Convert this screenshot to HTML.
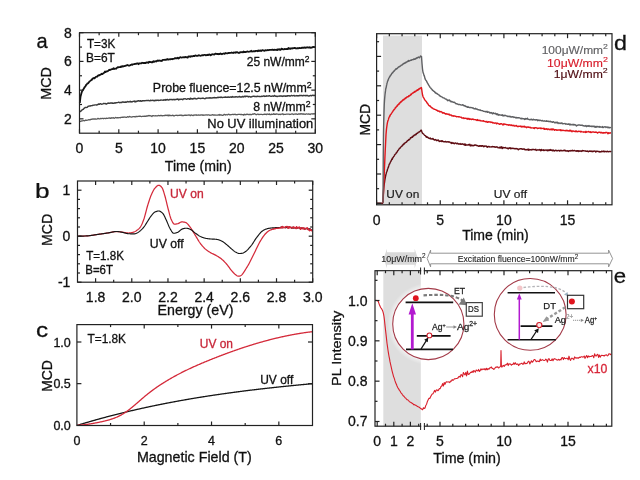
<!DOCTYPE html>
<html><head><meta charset="utf-8"><title>figure</title>
<style>html,body{margin:0;padding:0;background:#fff;}svg{display:block;}</style>
</head><body>
<svg width="640" height="480" viewBox="0 0 640 480" font-family="'Liberation Sans', Arial, sans-serif">
<rect width="640" height="480" fill="#fff"/>
<polyline points="79.8,121.5 80.5,121.42 81.2,121.13 81.9,120.83 82.6,120.8 83.3,120.52 84,120.65 84.7,120.84 85.4,120.26 86.1,120.11 86.8,120.27 87.5,120.13 88.2,119.96 88.9,119.61 89.6,119.74 90.3,119.84 91,119.25 91.7,119.4 92.4,118.96 93.1,119.05 93.8,118.84 94.5,119.18 95.2,118.86 95.9,119.19 96.6,119.1 97.3,118.96 98,118.32 98.7,118.77 99.4,118.83 100.1,118.82 100.8,118.36 101.5,118.57 102.2,118.39 102.9,118.38 103.6,118.8 104.3,118.28 105,118.43 105.7,118.61 106.4,118.2 107.1,118.27 107.8,118.28 108.5,118.22 109.2,117.85 109.9,118.13 110.6,118.41 111.3,117.64 112,118.2 112.7,117.97 113.4,117.74 114.1,118.35 114.8,118 115.5,117.47 116.2,117.75 116.9,117.83 117.6,117.6 118.3,117.77 119,117.54 119.7,117.68 120.4,117.84 121.1,117.27 121.8,117.44 122.5,117.23 123.2,117.34 123.9,116.97 124.6,117.08 125.3,117.14 126,117.37 126.7,117.39 127.4,116.73 128.1,116.82 128.8,117.14 129.5,116.44 130.2,116.78 130.9,116.84 131.6,117.14 132.3,116.96 133,116.66 133.7,116.62 134.4,116.61 135.1,117.02 135.8,116.49 136.5,116.49 137.2,116.62 137.9,116.47 138.6,116.41 139.3,116.15 140,116.4 140.7,116.26 141.4,116.63 142.1,116.47 142.8,116.27 143.5,116.41 144.2,116.13 144.9,116.45 145.6,116.15 146.3,116.27 147,115.78 147.7,116.16 148.4,115.62 149.1,115.51 149.8,115.91 150.5,115.74 151.2,115.98 151.9,116.48 152.6,115.69 153.3,115.72 154,115.9 154.7,115.96 155.4,115.77 156.1,115.75 156.8,115.96 157.5,115.9 158.2,115.49 158.9,115.72 159.6,115.73 160.3,115.44 161,115.76 161.7,115.46 162.4,115.91 163.1,115.7 163.8,115.66 164.5,115.48 165.2,115.59 165.9,115.1 166.6,115.31 167.3,115.67 168,115.04 168.7,115.77 169.4,115.11 170.1,115.72 170.8,115.31 171.5,115.71 172.2,115.54 172.9,115.11 173.6,115.8 174.3,115.83 175,115.45 175.7,115.39 176.4,115.4 177.1,115.19 177.8,115.7 178.5,115.28 179.2,115.39 179.9,115.2 180.6,115.23 181.3,115.06 182,115.69 182.7,115.32 183.4,115.59 184.1,115.35 184.8,115.16 185.5,115.25 186.2,115.18 186.9,115.31 187.6,115.21 188.3,115.22 189,114.94 189.7,115.07 190.4,115.68 191.1,115.09 191.8,114.98 192.5,115.32 193.2,115.58 193.9,114.85 194.6,115.15 195.3,115.04 196,114.75 196.7,115.36 197.4,115.16 198.1,115.17 198.8,114.96 199.5,115.25 200.2,114.99 200.9,115.08 201.6,114.83 202.3,114.79 203,115.42 203.7,114.95 204.4,115.14 205.1,115.05 205.8,114.94 206.5,114.91 207.2,115.18 207.9,114.94 208.6,114.97 209.3,115 210,115.28 210.7,115.15 211.4,115.06 212.1,114.82 212.8,114.6 213.5,115.18 214.2,115.17 214.9,114.88 215.6,115.04 216.3,115.1 217,115.1 217.7,115.11 218.4,114.76 219.1,115.24 219.8,114.54 220.5,115.06 221.2,114.96 221.9,115.04 222.6,115.29 223.3,115.18 224,114.51 224.7,114.37 225.4,114.98 226.1,114.52 226.8,114.76 227.5,114.96 228.2,114.33 228.9,114.21 229.6,114.79 230.3,114.73 231,114.65 231.7,114.71 232.4,114.47 233.1,114.3 233.8,114.63 234.5,114.42 235.2,114.25 235.9,114.77 236.6,114.62 237.3,114.73 238,114.38 238.7,114.45 239.4,114.36 240.1,114.38 240.8,114.64 241.5,114.39 242.2,114.66 242.9,114.65 243.6,115.07 244.3,114.2 245,114.77 245.7,114.51 246.4,114.52 247.1,114.16 247.8,114.4 248.5,114.69 249.2,114.48 249.9,114.51 250.6,114.41 251.3,114.76 252,114.46 252.7,113.91 253.4,114.28 254.1,113.95 254.8,113.62 255.5,114.29 256.2,114.75 256.9,114.42 257.6,114.11 258.3,114.16 259,114.67 259.7,114.42 260.4,114.39 261.1,114.35 261.8,114.37 262.5,114.55 263.2,114.48 263.9,114.39 264.6,114.07 265.3,114.45 266,114.15 266.7,114.59 267.4,113.99 268.1,114.26 268.8,114.29 269.5,113.96 270.2,114.71 270.9,114.64 271.6,114.15 272.3,114.45 273,114.35 273.7,113.6 274.4,114.31 275.1,114.22 275.8,114.25 276.5,113.96 277.2,114.15 277.9,114.17 278.6,114.51 279.3,114.29 280,114.2 280.7,114.58 281.4,114.05 282.1,114.09 282.8,113.73 283.5,114.57 284.2,114.41 284.9,114.39 285.6,114.33 286.3,114.18 287,114.2 287.7,114.08 288.4,114.09 289.1,114.15 289.8,114.51 290.5,114.27 291.2,114.11 291.9,113.97 292.6,113.96 293.3,114.51 294,114.23 294.7,114.12 295.4,114.01 296.1,113.82 296.8,114.07 297.5,114.3 298.2,113.98 298.9,114.02 299.6,114.02 300.3,114.1 301,113.67 301.7,114 302.4,113.84 303.1,114.27 303.8,113.86 304.5,114.19 305.2,114.42 305.9,113.96 306.6,113.89 307.3,114.08 308,114.03 308.7,113.78 309.4,114.14 310.1,114.52 310.8,113.95 311.5,113.96 312.2,113.75 312.9,114.09 313.6,113.69 314.3,113.73 315,114.32" fill="none" stroke="#5a5a5a" stroke-width="1.3" stroke-linejoin="round" />
<polyline points="79.8,111.57 80.5,111.43 81.2,110.92 81.9,110.02 82.6,109.55 83.3,109.4 84,108.41 84.7,107.91 85.4,107.36 86.1,107.39 86.8,107.44 87.5,107.03 88.2,106.3 88.9,106.1 89.6,105.98 90.3,106 91,105.7 91.7,105.65 92.4,105.51 93.1,105.22 93.8,105.14 94.5,105.07 95.2,104.88 95.9,104.9 96.6,105.13 97.3,104.71 98,104.47 98.7,103.94 99.4,104.37 100.1,103.7 100.8,103.75 101.5,104.24 102.2,104.13 102.9,103.84 103.6,103.38 104.3,103.64 105,103.5 105.7,103.77 106.4,104.11 107.1,103.54 107.8,103.23 108.5,103.07 109.2,103.3 109.9,103.21 110.6,102.91 111.3,103.18 112,102.81 112.7,103.32 113.4,103.26 114.1,103.21 114.8,102.77 115.5,102.97 116.2,102.76 116.9,102.64 117.6,102.6 118.3,102.31 119,102.22 119.7,102.72 120.4,102.42 121.1,102.47 121.8,102.6 122.5,101.86 123.2,102.04 123.9,102.22 124.6,102.22 125.3,101.97 126,102.26 126.7,102 127.4,101.58 128.1,101.6 128.8,101.97 129.5,101.83 130.2,101.18 130.9,101.94 131.6,101.7 132.3,101.83 133,101.35 133.7,101.32 134.4,101.06 135.1,101.93 135.8,101.2 136.5,101.6 137.2,100.99 137.9,101.15 138.6,100.66 139.3,100.94 140,101.25 140.7,100.65 141.4,101.2 142.1,100.99 142.8,100.61 143.5,100.72 144.2,100.7 144.9,100.78 145.6,100.63 146.3,100.53 147,100.64 147.7,100.43 148.4,100.35 149.1,100.63 149.8,100.84 150.5,100.21 151.2,100.57 151.9,100.39 152.6,100.28 153.3,100.71 154,100.35 154.7,100.82 155.4,100.23 156.1,100.49 156.8,100.31 157.5,100.15 158.2,100.46 158.9,100.24 159.6,100.4 160.3,100.21 161,99.92 161.7,100.14 162.4,100.15 163.1,100.35 163.8,99.85 164.5,100.04 165.2,99.59 165.9,100.15 166.6,99.69 167.3,99.48 168,99.88 168.7,100.14 169.4,99.45 170.1,99.53 170.8,99.59 171.5,99.46 172.2,99.81 172.9,99.48 173.6,99.47 174.3,99.76 175,99.4 175.7,99.66 176.4,99.28 177.1,99.19 177.8,99 178.5,99.9 179.2,99.32 179.9,99.43 180.6,99.33 181.3,99.34 182,99.29 182.7,99.72 183.4,98.95 184.1,98.79 184.8,98.9 185.5,98.78 186.2,99.27 186.9,99.26 187.6,98.78 188.3,98.64 189,98.87 189.7,99.28 190.4,98.19 191.1,99 191.8,98.57 192.5,99.07 193.2,98.51 193.9,98.68 194.6,98.34 195.3,98.44 196,99 196.7,98.83 197.4,98.49 198.1,98.35 198.8,98.06 199.5,98.4 200.2,98.46 200.9,98.42 201.6,98.38 202.3,98.09 203,98.32 203.7,98.3 204.4,98.6 205.1,98.71 205.8,98.18 206.5,97.99 207.2,98.13 207.9,97.96 208.6,97.89 209.3,98.03 210,97.75 210.7,98.13 211.4,97.92 212.1,97.97 212.8,97.83 213.5,97.66 214.2,97.58 214.9,97.72 215.6,97.61 216.3,97.77 217,97.68 217.7,97.31 218.4,97.64 219.1,97.25 219.8,97.4 220.5,97.45 221.2,96.97 221.9,97.49 222.6,97.47 223.3,97.36 224,97.27 224.7,97.25 225.4,97.07 226.1,97.22 226.8,97.12 227.5,97.25 228.2,96.9 228.9,97.23 229.6,97.18 230.3,97.08 231,96.98 231.7,97.2 232.4,96.62 233.1,97.13 233.8,97.05 234.5,97.04 235.2,97.04 235.9,96.76 236.6,96.83 237.3,97.04 238,96.96 238.7,96.89 239.4,96.44 240.1,96.93 240.8,97.07 241.5,97.01 242.2,96.8 242.9,96.33 243.6,96.94 244.3,96.65 245,96.04 245.7,96.75 246.4,96.27 247.1,96.3 247.8,96.45 248.5,96.91 249.2,96.48 249.9,96.63 250.6,96.98 251.3,96.93 252,96.49 252.7,96.44 253.4,96.17 254.1,96.3 254.8,96.56 255.5,96.54 256.2,96.46 256.9,96.67 257.6,96.21 258.3,96.38 259,96.56 259.7,96.51 260.4,96.62 261.1,96.44 261.8,96.25 262.5,96.4 263.2,96.05 263.9,95.88 264.6,96.42 265.3,96.25 266,96.33 266.7,95.81 267.4,96.13 268.1,96.06 268.8,95.98 269.5,95.62 270.2,96.09 270.9,96.39 271.6,96.25 272.3,95.99 273,96.12 273.7,96.3 274.4,95.41 275.1,96.06 275.8,96.21 276.5,96.23 277.2,96.48 277.9,96.32 278.6,96.1 279.3,96.09 280,96.2 280.7,95.85 281.4,95.96 282.1,96.19 282.8,96.44 283.5,95.9 284.2,95.91 284.9,95.96 285.6,96.23 286.3,95.88 287,96.24 287.7,95.62 288.4,95.8 289.1,95.79 289.8,96.02 290.5,96.07 291.2,95.42 291.9,95.56 292.6,95.86 293.3,95.6 294,95.37 294.7,96 295.4,95.85 296.1,95.84 296.8,95.58 297.5,95.95 298.2,95.62 298.9,95.94 299.6,95.42 300.3,95.43 301,95.68 301.7,95.44 302.4,95.77 303.1,95.66 303.8,95.35 304.5,95.59 305.2,95.47 305.9,95.78 306.6,95.38 307.3,95.41 308,95.82 308.7,96.06 309.4,95.99 310.1,95.49 310.8,95.52 311.5,95.84 312.2,95.41 312.9,95.19 313.6,95.45 314.3,95.52 315,95.19" fill="none" stroke="#3a3a3a" stroke-width="1.45" stroke-linejoin="round" />
<polyline points="79.8,103.01 80.5,96.85 81.2,93.92 81.9,91.65 82.6,90.52 83.3,89.41 84,88.36 84.7,87.01 85.4,86.29 86.1,84.98 86.8,84.31 87.5,83.34 88.2,83.27 88.9,82.25 89.6,81.39 90.3,80.88 91,80.3 91.7,79.99 92.4,78.73 93.1,78.35 93.8,78.03 94.5,78.42 95.2,77.51 95.9,76.77 96.6,76.63 97.3,76.67 98,75.62 98.7,75.24 99.4,75.36 100.1,74.8 100.8,74.5 101.5,73.78 102.2,74.15 102.9,73.73 103.6,73.03 104.3,72.71 105,71.55 105.7,72.01 106.4,71.43 107.1,71.3 107.8,71.07 108.5,70.47 109.2,69.79 109.9,70.15 110.6,69.57 111.3,69.46 112,69.16 112.7,69.02 113.4,68.22 114.1,69.08 114.8,68.6 115.5,68.67 116.2,68.74 116.9,67.98 117.6,67.25 118.3,67.35 119,67.08 119.7,67.12 120.4,67.13 121.1,66.33 121.8,66.86 122.5,66.14 123.2,66.51 123.9,66.22 124.6,66 125.3,65.91 126,65.61 126.7,65.42 127.4,64.95 128.1,65.29 128.8,65.7 129.5,65.6 130.2,65.26 130.9,64.93 131.6,64.38 132.3,64.89 133,64.31 133.7,64.19 134.4,64.01 135.1,64.01 135.8,63.75 136.5,63.76 137.2,63.36 137.9,63.48 138.6,64.19 139.3,63.4 140,63.27 140.7,63.42 141.4,63.39 142.1,62.77 142.8,62.96 143.5,63.22 144.2,62.95 144.9,62.83 145.6,63.19 146.3,62.44 147,62.59 147.7,62.33 148.4,62.85 149.1,61.73 149.8,62.02 150.5,61.98 151.2,62.24 151.9,62.13 152.6,62.27 153.3,61.28 154,61.88 154.7,61.46 155.4,61.25 156.1,61.51 156.8,60.96 157.5,60.51 158.2,60.92 158.9,60.47 159.6,60.62 160.3,60.82 161,60.69 161.7,60.97 162.4,60.32 163.1,59.81 163.8,59.93 164.5,59.78 165.2,59.58 165.9,59.96 166.6,59.53 167.3,59.02 168,59.72 168.7,59.36 169.4,59.4 170.1,59.22 170.8,59.27 171.5,58.98 172.2,59.24 172.9,58.89 173.6,58.78 174.3,58.69 175,58.03 175.7,58.32 176.4,58.19 177.1,58.24 177.8,57.67 178.5,58.48 179.2,57.93 179.9,57.45 180.6,57.21 181.3,57.56 182,57.53 182.7,57.26 183.4,57.41 184.1,57.11 184.8,57.39 185.5,56.92 186.2,57.05 186.9,57.27 187.6,57.67 188.3,56.51 189,56.6 189.7,56.41 190.4,56.82 191.1,56.16 191.8,56.28 192.5,56.34 193.2,55.98 193.9,55.91 194.6,55.98 195.3,55.42 196,55.54 196.7,55.78 197.4,55.87 198.1,55.7 198.8,55.15 199.5,55.47 200.2,55.78 200.9,55.64 201.6,55.38 202.3,55.07 203,55.45 203.7,55.02 204.4,54.78 205.1,54.82 205.8,55.43 206.5,54.99 207.2,55.21 207.9,54.65 208.6,55.01 209.3,54.48 210,54.55 210.7,55.28 211.4,54.7 212.1,54.26 212.8,54.32 213.5,54.39 214.2,54.59 214.9,54.02 215.6,53.58 216.3,53.96 217,53.99 217.7,53.96 218.4,54.27 219.1,53.91 219.8,54 220.5,53.37 221.2,53.9 221.9,54.22 222.6,53.76 223.3,53.55 224,53.47 224.7,53.9 225.4,53.03 226.1,53.22 226.8,53.34 227.5,53.37 228.2,52.96 228.9,53.13 229.6,52.91 230.3,52.97 231,52.84 231.7,52.49 232.4,52.77 233.1,52.99 233.8,52.38 234.5,52.54 235.2,52.76 235.9,52.19 236.6,52.51 237.3,52.09 238,52.69 238.7,52.99 239.4,52.85 240.1,52.13 240.8,52.36 241.5,52.12 242.2,52.06 242.9,52.44 243.6,51.53 244.3,52.19 245,51.81 245.7,52.19 246.4,51.77 247.1,51.46 247.8,51.69 248.5,51.78 249.2,51.52 249.9,51.6 250.6,51.25 251.3,50.71 252,51.57 252.7,51.46 253.4,51.24 254.1,51.16 254.8,51.4 255.5,50.9 256.2,50.78 256.9,50.88 257.6,51.24 258.3,50.42 259,51.14 259.7,50.54 260.4,50.35 261.1,51.01 261.8,50.55 262.5,50.14 263.2,50.37 263.9,50.71 264.6,50.74 265.3,50.2 266,50.4 266.7,50.45 267.4,49.99 268.1,50.24 268.8,50.07 269.5,49.87 270.2,49.84 270.9,49.95 271.6,49.89 272.3,49.67 273,49.66 273.7,50.07 274.4,49.75 275.1,49.91 275.8,49.95 276.5,49.72 277.2,50.17 277.9,49.2 278.6,49.64 279.3,49.25 280,49.86 280.7,49.76 281.4,48.62 282.1,48.87 282.8,49.31 283.5,49.3 284.2,49.23 284.9,48.94 285.6,49.05 286.3,49.07 287,48.8 287.7,49.08 288.4,48.05 289.1,48.87 289.8,48.32 290.5,48.87 291.2,48.47 291.9,48.23 292.6,48.56 293.3,48.13 294,48.08 294.7,47.84 295.4,48.25 296.1,48.36 296.8,48.48 297.5,48.08 298.2,48.39 298.9,48.04 299.6,47.96 300.3,48.11 301,48.21 301.7,47.75 302.4,47.73 303.1,47.71 303.8,47.74 304.5,47.4 305.2,47.93 305.9,47.46 306.6,47.67 307.3,47.24 308,47.55 308.7,47.52 309.4,47.23 310.1,47.91 310.8,47.38 311.5,47.75 312.2,47.46 312.9,46.93 313.6,46.97 314.3,47.17 315,47.02" fill="none" stroke="#111" stroke-width="1.8" stroke-linejoin="round" />
<rect x="79.5" y="32.7" width="235.8" height="100.5" fill="none" stroke="#222" stroke-width="1.2"/>
<line x1="79.5" y1="133.2" x2="79.5" y2="129.2" stroke="#222" stroke-width="1.2" />
<line x1="79.5" y1="32.7" x2="79.5" y2="36.7" stroke="#222" stroke-width="1.2" />
<line x1="118.8" y1="133.2" x2="118.8" y2="129.2" stroke="#222" stroke-width="1.2" />
<line x1="118.8" y1="32.7" x2="118.8" y2="36.7" stroke="#222" stroke-width="1.2" />
<line x1="158.1" y1="133.2" x2="158.1" y2="129.2" stroke="#222" stroke-width="1.2" />
<line x1="158.1" y1="32.7" x2="158.1" y2="36.7" stroke="#222" stroke-width="1.2" />
<line x1="197.4" y1="133.2" x2="197.4" y2="129.2" stroke="#222" stroke-width="1.2" />
<line x1="197.4" y1="32.7" x2="197.4" y2="36.7" stroke="#222" stroke-width="1.2" />
<line x1="236.7" y1="133.2" x2="236.7" y2="129.2" stroke="#222" stroke-width="1.2" />
<line x1="236.7" y1="32.7" x2="236.7" y2="36.7" stroke="#222" stroke-width="1.2" />
<line x1="276" y1="133.2" x2="276" y2="129.2" stroke="#222" stroke-width="1.2" />
<line x1="276" y1="32.7" x2="276" y2="36.7" stroke="#222" stroke-width="1.2" />
<line x1="315.3" y1="133.2" x2="315.3" y2="129.2" stroke="#222" stroke-width="1.2" />
<line x1="315.3" y1="32.7" x2="315.3" y2="36.7" stroke="#222" stroke-width="1.2" />
<line x1="99.15" y1="133.2" x2="99.15" y2="130.7" stroke="#222" stroke-width="1.2" />
<line x1="99.15" y1="32.7" x2="99.15" y2="35.2" stroke="#222" stroke-width="1.2" />
<line x1="138.45" y1="133.2" x2="138.45" y2="130.7" stroke="#222" stroke-width="1.2" />
<line x1="138.45" y1="32.7" x2="138.45" y2="35.2" stroke="#222" stroke-width="1.2" />
<line x1="177.75" y1="133.2" x2="177.75" y2="130.7" stroke="#222" stroke-width="1.2" />
<line x1="177.75" y1="32.7" x2="177.75" y2="35.2" stroke="#222" stroke-width="1.2" />
<line x1="217.05" y1="133.2" x2="217.05" y2="130.7" stroke="#222" stroke-width="1.2" />
<line x1="217.05" y1="32.7" x2="217.05" y2="35.2" stroke="#222" stroke-width="1.2" />
<line x1="256.35" y1="133.2" x2="256.35" y2="130.7" stroke="#222" stroke-width="1.2" />
<line x1="256.35" y1="32.7" x2="256.35" y2="35.2" stroke="#222" stroke-width="1.2" />
<line x1="295.65" y1="133.2" x2="295.65" y2="130.7" stroke="#222" stroke-width="1.2" />
<line x1="295.65" y1="32.7" x2="295.65" y2="35.2" stroke="#222" stroke-width="1.2" />
<line x1="79.5" y1="118.84" x2="83.5" y2="118.84" stroke="#222" stroke-width="1.2" />
<line x1="315.3" y1="118.84" x2="311.3" y2="118.84" stroke="#222" stroke-width="1.2" />
<line x1="79.5" y1="90.13" x2="83.5" y2="90.13" stroke="#222" stroke-width="1.2" />
<line x1="315.3" y1="90.13" x2="311.3" y2="90.13" stroke="#222" stroke-width="1.2" />
<line x1="79.5" y1="61.41" x2="83.5" y2="61.41" stroke="#222" stroke-width="1.2" />
<line x1="315.3" y1="61.41" x2="311.3" y2="61.41" stroke="#222" stroke-width="1.2" />
<line x1="79.5" y1="32.7" x2="83.5" y2="32.7" stroke="#222" stroke-width="1.2" />
<line x1="315.3" y1="32.7" x2="311.3" y2="32.7" stroke="#222" stroke-width="1.2" />
<line x1="79.5" y1="104.49" x2="82" y2="104.49" stroke="#222" stroke-width="1.2" />
<line x1="315.3" y1="104.49" x2="312.8" y2="104.49" stroke="#222" stroke-width="1.2" />
<line x1="79.5" y1="75.77" x2="82" y2="75.77" stroke="#222" stroke-width="1.2" />
<line x1="315.3" y1="75.77" x2="312.8" y2="75.77" stroke="#222" stroke-width="1.2" />
<line x1="79.5" y1="47.06" x2="82" y2="47.06" stroke="#222" stroke-width="1.2" />
<line x1="315.3" y1="47.06" x2="312.8" y2="47.06" stroke="#222" stroke-width="1.2" />
<text x="79.5" y="153.4" font-size="14" text-anchor="middle" fill="#111"  stroke="#111" stroke-width="0.3">0</text>
<text x="118.8" y="153.4" font-size="14" text-anchor="middle" fill="#111"  stroke="#111" stroke-width="0.3">5</text>
<text x="158.1" y="153.4" font-size="14" text-anchor="middle" fill="#111"  stroke="#111" stroke-width="0.3">10</text>
<text x="197.4" y="153.4" font-size="14" text-anchor="middle" fill="#111"  stroke="#111" stroke-width="0.3">15</text>
<text x="236.7" y="153.4" font-size="14" text-anchor="middle" fill="#111"  stroke="#111" stroke-width="0.3">20</text>
<text x="276" y="153.4" font-size="14" text-anchor="middle" fill="#111"  stroke="#111" stroke-width="0.3">25</text>
<text x="315.3" y="153.4" font-size="14" text-anchor="middle" fill="#111"  stroke="#111" stroke-width="0.3">30</text>
<text x="71.8" y="123.84" font-size="14" text-anchor="end" fill="#111"  stroke="#111" stroke-width="0.3">2</text>
<text x="71.8" y="95.13" font-size="14" text-anchor="end" fill="#111"  stroke="#111" stroke-width="0.3">4</text>
<text x="71.8" y="66.41" font-size="14" text-anchor="end" fill="#111"  stroke="#111" stroke-width="0.3">6</text>
<text x="71.8" y="37.7" font-size="14" text-anchor="end" fill="#111"  stroke="#111" stroke-width="0.3">8</text>
<polyline points="77.5,236.2 78,236.2 78.5,236.2 79,236.19 79.5,236.18 80,236.17 80.5,236.16 81,236.15 81.5,236.13 82,236.12 82.5,236.1 83,236.08 83.5,236.06 84,236.04 84.5,236.02 85,235.99 85.5,235.97 86,235.95 86.5,235.92 87,235.89 87.5,235.86 88,235.83 88.5,235.78 89,235.73 89.5,235.68 90,235.62 90.5,235.55 91,235.48 91.5,235.41 92,235.34 92.5,235.26 93,235.18 93.5,235.1 94,235.02 94.5,234.93 95,234.85 95.5,234.77 96,234.69 96.5,234.61 97,234.53 97.5,234.46 98,234.39 98.5,234.32 99,234.24 99.5,234.17 100,234.1 100.5,234.03 101,233.96 101.5,233.89 102,233.82 102.5,233.75 103,233.67 103.5,233.6 104,233.53 104.5,233.45 105,233.38 105.5,233.31 106,233.23 106.5,233.16 107,233.08 107.5,233 108,232.93 108.5,232.85 109,232.77 109.5,232.68 110,232.58 110.5,232.48 111,232.37 111.5,232.25 112,232.14 112.5,232.03 113,231.92 113.5,231.83 114,231.74 114.5,231.66 115,231.59 115.5,231.54 116,231.51 116.5,231.5 117,231.51 117.5,231.53 118,231.57 118.5,231.62 119,231.68 119.5,231.75 120,231.82 120.5,231.89 121,231.97 121.5,232.04 122,232.1 122.5,232.17 123,232.24 123.5,232.33 124,232.42 124.5,232.51 125,232.6 125.5,232.69 126,232.77 126.5,232.85 127,232.91 127.5,232.96 128,232.99 128.5,233 129,232.99 129.5,232.96 130,232.91 130.5,232.84 131,232.75 131.5,232.65 132,232.54 132.5,232.42 133,232.28 133.5,232.14 134,232 134.5,231.81 135,231.56 135.5,231.26 136,230.92 136.5,230.56 137,230.2 137.5,229.84 138,229.46 138.5,229.05 139,228.59 139.5,228.08 140,227.5 140.5,226.8 141,225.95 141.5,224.98 142,223.89 142.5,222.72 143,221.47 143.5,220.17 144,218.79 144.5,217.2 145,215.41 145.5,213.5 146,211.53 146.5,209.58 147,207.72 147.5,206 148,204.38 148.5,202.77 149,201.2 149.5,199.67 150,198.21 150.5,196.84 151,195.58 151.5,194.44 152,193.33 152.5,192.25 153,191.24 153.5,190.3 154,189.45 154.5,188.71 155,188.1 155.5,187.56 156,187.02 156.5,186.52 157,186.06 157.5,185.69 158,185.42 158.5,185.27 159,185.27 159.5,185.42 160,185.69 160.5,186.07 161,186.53 161.5,187.05 162,187.62 162.5,188.49 163,189.71 163.5,191.19 164,192.83 164.5,194.55 165,196.25 165.5,198.04 166,200.03 166.5,202.14 167,204.29 167.5,206.39 168,208.38 168.5,210.26 169,212.2 169.5,214.11 170,215.93 170.5,217.56 171,218.94 171.5,220.02 172,221.08 172.5,222.08 173,222.96 173.5,223.65 174,224.08 174.5,224.2 175,224.18 175.5,224.12 176,224.05 176.5,223.96 177,223.86 177.5,223.75 178,223.6 178.5,223.38 179,223.11 179.5,222.83 180,222.54 180.5,222.28 181,222.07 181.5,221.94 182,221.9 182.5,221.92 183,221.96 183.5,222.03 184,222.12 184.5,222.22 185,222.34 185.5,222.47 186,222.65 186.5,222.95 187,223.36 187.5,223.85 188,224.41 188.5,225.01 189,225.64 189.5,226.28 190,226.9 190.5,227.55 191,228.25 191.5,229.01 192,229.81 192.5,230.64 193,231.49 193.5,232.35 194,233.2 194.5,234.05 195,234.88 195.5,235.68 196,236.51 196.5,237.35 197,238.19 197.5,239.04 198,239.88 198.5,240.69 199,241.49 199.5,242.25 200,242.96 200.5,243.63 201,244.27 201.5,244.89 202,245.49 202.5,246.08 203,246.64 203.5,247.19 204,247.71 204.5,248.2 205,248.67 205.5,249.11 206,249.53 206.5,249.93 207,250.32 207.5,250.68 208,251.04 208.5,251.38 209,251.7 209.5,252.02 210,252.33 210.5,252.62 211,252.91 211.5,253.19 212,253.44 212.5,253.69 213,253.92 213.5,254.16 214,254.39 214.5,254.63 215,254.87 215.5,255.13 216,255.4 216.5,255.68 217,255.97 217.5,256.27 218,256.57 218.5,256.88 219,257.2 219.5,257.53 220,257.87 220.5,258.23 221,258.61 221.5,259 222,259.42 222.5,259.86 223,260.32 223.5,260.8 224,261.3 224.5,261.82 225,262.35 225.5,262.89 226,263.44 226.5,264 227,264.59 227.5,265.21 228,265.87 228.5,266.54 229,267.23 229.5,267.92 230,268.6 230.5,269.26 231,269.9 231.5,270.5 232,271.08 232.5,271.67 233,272.24 233.5,272.79 234,273.31 234.5,273.78 235,274.2 235.5,274.6 236,275.01 236.5,275.41 237,275.75 237.5,276.02 238,276.17 238.5,276.2 239,276.15 239.5,276.06 240,275.94 240.5,275.8 241,275.54 241.5,275.12 242,274.58 242.5,273.98 243,273.38 243.5,272.71 244,271.95 244.5,271.14 245,270.31 245.5,269.5 246,268.71 246.5,267.91 247,267.11 247.5,266.29 248,265.45 248.5,264.58 249,263.68 249.5,262.75 250,261.79 250.5,260.81 251,259.81 251.5,258.8 252,257.78 252.5,256.76 253,255.73 253.5,254.71 254,253.7 254.5,252.7 255,251.69 255.5,250.65 256,249.6 256.5,248.54 257,247.49 257.5,246.45 258,245.42 258.5,244.42 259,243.46 259.5,242.54 260,241.67 260.5,240.84 261,240.02 261.5,239.21 262,238.42 262.5,237.65 263,236.91 263.5,236.19 264,235.51 264.5,234.87 265,234.27 265.5,233.71 266,233.2 266.5,232.72 267,232.26 267.5,231.82 268,231.43 268.5,231.07 269,230.76 269.5,230.5 270,230.26 270.5,230.03 271,229.82 271.5,229.62 272,229.43 272.5,229.25 273,229.09 273.5,228.95 274,228.82 274.5,228.7 275,228.6 275.5,228.51 276,228.42 276.5,228.34 277,228.27 277.5,228.19 278,228.13 278.5,228.06 279,228.01 279.5,227.95 280,227.91 280.5,227.89 281,227.67 281.5,226.8 282,227.64 282.5,226.51 283,227.91 283.5,227.27 284,227.25 284.5,227.5 285,227.74 285.5,226.78 286,226.58 286.5,226.93 287,226.37 287.5,226.95 288,228.34 288.5,226.86 289,227.79 289.5,226.67 290,227.58 290.5,227.23 291,227.37 291.5,227.71 292,228.37 292.5,227.52 293,227.49 293.5,226.91 294,227.79 294.5,227.36 295,227.99 295.5,227.55 296,228.57 296.5,226.56 297,227.54 297.5,228.23 298,227.61 298.5,227.42 299,227.76 299.5,227.2 300,228.08 300.5,229.42 301,228.76 301.5,227.58 302,227.77 302.5,228.09 303,228.93 303.5,228 304,228.14 304.5,229.09 305,229.16 305.5,228.57 306,228.25 306.5,228.11 307,228.68 307.5,227.94 308,229.68 308.5,229.03 309,229.75 309.5,230.63 310,230.36 310.5,229.2 311,230.43 311.5,230.71 312,229.79" fill="none" stroke="#d42a3a" stroke-width="1.25" stroke-linejoin="round" />
<polyline points="77.5,236.2 78,236.2 78.5,236.2 79,236.19 79.5,236.18 80,236.17 80.5,236.16 81,236.15 81.5,236.13 82,236.12 82.5,236.1 83,236.08 83.5,236.06 84,236.04 84.5,236.02 85,235.99 85.5,235.97 86,235.95 86.5,235.92 87,235.89 87.5,235.86 88,235.83 88.5,235.78 89,235.73 89.5,235.68 90,235.62 90.5,235.55 91,235.48 91.5,235.41 92,235.34 92.5,235.26 93,235.18 93.5,235.1 94,235.02 94.5,234.93 95,234.85 95.5,234.77 96,234.69 96.5,234.61 97,234.53 97.5,234.46 98,234.39 98.5,234.32 99,234.24 99.5,234.17 100,234.1 100.5,234.03 101,233.96 101.5,233.89 102,233.82 102.5,233.75 103,233.67 103.5,233.6 104,233.53 104.5,233.45 105,233.38 105.5,233.31 106,233.23 106.5,233.16 107,233.08 107.5,233 108,232.93 108.5,232.85 109,232.77 109.5,232.68 110,232.58 110.5,232.48 111,232.37 111.5,232.25 112,232.14 112.5,232.03 113,231.92 113.5,231.83 114,231.74 114.5,231.66 115,231.59 115.5,231.54 116,231.51 116.5,231.5 117,231.51 117.5,231.54 118,231.59 118.5,231.65 119,231.72 119.5,231.8 120,231.89 120.5,231.98 121,232.07 121.5,232.16 122,232.25 122.5,232.34 123,232.45 123.5,232.58 124,232.71 124.5,232.85 125,232.99 125.5,233.13 126,233.26 126.5,233.39 127,233.49 127.5,233.59 128,233.66 128.5,233.7 129,233.73 129.5,233.76 130,233.79 130.5,233.81 131,233.83 131.5,233.85 132,233.87 132.5,233.88 133,233.89 133.5,233.9 134,233.9 134.5,233.86 135,233.76 135.5,233.61 136,233.42 136.5,233.21 137,233 137.5,232.76 138,232.47 138.5,232.14 139,231.78 139.5,231.4 140,231 140.5,230.59 141,230.14 141.5,229.67 142,229.17 142.5,228.64 143,228.08 143.5,227.5 144,226.89 144.5,226.21 145,225.47 145.5,224.69 146,223.89 146.5,223.08 147,222.28 147.5,221.5 148,220.72 148.5,219.92 149,219.11 149.5,218.31 150,217.53 150.5,216.79 151,216.11 151.5,215.49 152,214.87 152.5,214.26 153,213.67 153.5,213.13 154,212.66 154.5,212.27 155,212 155.5,211.79 156,211.6 156.5,211.42 157,211.27 157.5,211.14 158,211.05 158.5,211.01 159,211.01 159.5,211.12 160,211.31 160.5,211.57 161,211.9 161.5,212.27 162,212.68 162.5,213.1 163,213.64 163.5,214.37 164,215.26 164.5,216.26 165,217.32 165.5,218.41 166,219.48 166.5,220.53 167,221.66 167.5,222.88 168,224.12 168.5,225.36 169,226.53 169.5,227.59 170,228.5 170.5,229.35 171,230.22 171.5,231.07 172,231.85 172.5,232.51 173,233 173.5,233.26 174,233.29 174.5,233.25 175,233.16 175.5,233.05 176,232.91 176.5,232.75 177,232.57 177.5,232.4 178,232.17 178.5,231.86 179,231.48 179.5,231.05 180,230.61 180.5,230.17 181,229.76 181.5,229.39 182,229.1 182.5,228.9 183,228.76 183.5,228.62 184,228.5 184.5,228.39 185,228.3 185.5,228.24 186,228.2 186.5,228.21 187,228.26 187.5,228.35 188,228.48 188.5,228.64 189,228.82 189.5,229.01 190,229.2 190.5,229.42 191,229.71 191.5,230.04 192,230.41 192.5,230.81 193,231.23 193.5,231.65 194,232.07 194.5,232.48 195,232.86 195.5,233.21 196,233.58 196.5,233.95 197,234.32 197.5,234.69 198,235.05 198.5,235.4 199,235.73 199.5,236.03 200,236.31 200.5,236.55 201,236.77 201.5,236.98 202,237.19 202.5,237.39 203,237.57 203.5,237.74 204,237.9 204.5,238.04 205,238.17 205.5,238.28 206,238.38 206.5,238.46 207,238.55 207.5,238.62 208,238.7 208.5,238.76 209,238.82 209.5,238.88 210,238.93 210.5,238.97 211,239.02 211.5,239.05 212,239.08 212.5,239.1 213,239.12 213.5,239.14 214,239.17 214.5,239.19 215,239.22 215.5,239.26 216,239.3 216.5,239.36 217,239.44 217.5,239.55 218,239.67 218.5,239.81 219,239.96 219.5,240.13 220,240.31 220.5,240.5 221,240.7 221.5,240.91 222,241.16 222.5,241.45 223,241.77 223.5,242.12 224,242.5 224.5,242.89 225,243.29 225.5,243.7 226,244.1 226.5,244.5 227,244.9 227.5,245.33 228,245.77 228.5,246.22 229,246.68 229.5,247.14 230,247.59 230.5,248.04 231,248.48 231.5,248.9 232,249.32 232.5,249.75 233,250.18 233.5,250.61 234,251.01 234.5,251.39 235,251.72 235.5,252 236,252.26 236.5,252.52 237,252.77 237.5,253 238,253.2 238.5,253.36 239,253.46 239.5,253.5 240,253.49 240.5,253.46 241,253.41 241.5,253.35 242,253.28 242.5,253.2 243,253.07 243.5,252.85 244,252.58 244.5,252.26 245,251.93 245.5,251.59 246,251.21 246.5,250.79 247,250.34 247.5,249.85 248,249.34 248.5,248.8 249,248.24 249.5,247.66 250,247.08 250.5,246.48 251,245.88 251.5,245.24 252,244.55 252.5,243.82 253,243.06 253.5,242.28 254,241.49 254.5,240.71 255,239.93 255.5,239.17 256,238.45 256.5,237.76 257,237.11 257.5,236.46 258,235.8 258.5,235.14 259,234.5 259.5,233.87 260,233.27 260.5,232.7 261,232.18 261.5,231.71 262,231.29 262.5,230.93 263,230.61 263.5,230.31 264,230.03 264.5,229.77 265,229.53 265.5,229.31 266,229.12 266.5,228.95 267,228.8 267.5,228.67 268,228.54 268.5,228.43 269,228.32 269.5,228.23 270,228.14 270.5,228.07 271,228.02 271.5,227.97 272,227.93 272.5,227.89 273,227.86 273.5,227.82 274,227.78 274.5,227.75 275,227.72 275.5,227.69 276,227.66 276.5,227.63 277,227.61 277.5,227.59 278,227.57 278.5,227.55 279,227.53 279.5,227.52 280,227.51 280.5,227.27 281,227.47 281.5,227.1 282,227.87 282.5,226.9 283,227.22 283.5,227.43 284,227.44 284.5,227.54 285,227.57 285.5,227.45 286,227.78 286.5,226.97 287,227.5 287.5,227.32 288,227.53 288.5,227.56 289,227.27 289.5,227.34 290,227.7 290.5,227.59 291,227.33 291.5,228.01 292,228.08 292.5,227.15 293,227.6 293.5,228.17 294,227.76 294.5,227.64 295,227.57 295.5,227.52 296,227.63 296.5,227.59 297,227.95 297.5,227.71 298,227.74 298.5,227.6 299,227.94 299.5,227.77 300,228 300.5,228.35 301,228.23 301.5,228.32 302,228.33 302.5,228.31 303,228.32 303.5,228.33 304,228.66 304.5,228.26 305,228.94 305.5,228.68 306,228.56 306.5,228.7 307,228.73 307.5,229.02 308,228.88 308.5,229.44 309,229.04 309.5,228.76 310,229.24 310.5,229.01 311,229.6 311.5,229.97 312,229.96" fill="none" stroke="#151515" stroke-width="1.15" stroke-linejoin="round" />
<polyline points="272.5,229.25 273,229.09 273.5,228.95 274,228.82 274.5,228.7 275,228.6 275.5,228.51 276,228.42 276.5,228.34 277,228.27 277.5,228.19 278,228.13 278.5,228.06 279,228.01 279.5,227.95 280,227.91 280.5,227.89 281,227.67 281.5,226.8 282,227.64 282.5,226.51 283,227.91 283.5,227.27 284,227.25 284.5,227.5 285,227.74 285.5,226.78 286,226.58 286.5,226.93 287,226.37 287.5,226.95 288,228.34 288.5,226.86 289,227.79 289.5,226.67 290,227.58 290.5,227.23 291,227.37 291.5,227.71 292,228.37 292.5,227.52 293,227.49 293.5,226.91 294,227.79 294.5,227.36 295,227.99 295.5,227.55 296,228.57 296.5,226.56 297,227.54 297.5,228.23 298,227.61 298.5,227.42 299,227.76 299.5,227.2 300,228.08 300.5,229.42 301,228.76 301.5,227.58 302,227.77 302.5,228.09 303,228.93 303.5,228 304,228.14 304.5,229.09 305,229.16 305.5,228.57 306,228.25 306.5,228.11 307,228.68 307.5,227.94 308,229.68 308.5,229.03 309,229.75 309.5,230.63 310,230.36 310.5,229.2 311,230.43 311.5,230.71 312,229.79" fill="none" stroke="#d42a3a" stroke-width="1.25" stroke-linejoin="round" />
<rect x="77.5" y="181" width="235.2" height="101.2" fill="none" stroke="#222" stroke-width="1.2"/>
<line x1="95.59" y1="282.2" x2="95.59" y2="278.2" stroke="#222" stroke-width="1.2" />
<line x1="95.59" y1="181" x2="95.59" y2="185" stroke="#222" stroke-width="1.2" />
<line x1="131.78" y1="282.2" x2="131.78" y2="278.2" stroke="#222" stroke-width="1.2" />
<line x1="131.78" y1="181" x2="131.78" y2="185" stroke="#222" stroke-width="1.2" />
<line x1="167.96" y1="282.2" x2="167.96" y2="278.2" stroke="#222" stroke-width="1.2" />
<line x1="167.96" y1="181" x2="167.96" y2="185" stroke="#222" stroke-width="1.2" />
<line x1="204.15" y1="282.2" x2="204.15" y2="278.2" stroke="#222" stroke-width="1.2" />
<line x1="204.15" y1="181" x2="204.15" y2="185" stroke="#222" stroke-width="1.2" />
<line x1="240.33" y1="282.2" x2="240.33" y2="278.2" stroke="#222" stroke-width="1.2" />
<line x1="240.33" y1="181" x2="240.33" y2="185" stroke="#222" stroke-width="1.2" />
<line x1="276.52" y1="282.2" x2="276.52" y2="278.2" stroke="#222" stroke-width="1.2" />
<line x1="276.52" y1="181" x2="276.52" y2="185" stroke="#222" stroke-width="1.2" />
<line x1="312.7" y1="282.2" x2="312.7" y2="278.2" stroke="#222" stroke-width="1.2" />
<line x1="312.7" y1="181" x2="312.7" y2="185" stroke="#222" stroke-width="1.2" />
<line x1="113.68" y1="282.2" x2="113.68" y2="279.7" stroke="#222" stroke-width="1.2" />
<line x1="113.68" y1="181" x2="113.68" y2="183.5" stroke="#222" stroke-width="1.2" />
<line x1="149.87" y1="282.2" x2="149.87" y2="279.7" stroke="#222" stroke-width="1.2" />
<line x1="149.87" y1="181" x2="149.87" y2="183.5" stroke="#222" stroke-width="1.2" />
<line x1="186.05" y1="282.2" x2="186.05" y2="279.7" stroke="#222" stroke-width="1.2" />
<line x1="186.05" y1="181" x2="186.05" y2="183.5" stroke="#222" stroke-width="1.2" />
<line x1="222.24" y1="282.2" x2="222.24" y2="279.7" stroke="#222" stroke-width="1.2" />
<line x1="222.24" y1="181" x2="222.24" y2="183.5" stroke="#222" stroke-width="1.2" />
<line x1="258.42" y1="282.2" x2="258.42" y2="279.7" stroke="#222" stroke-width="1.2" />
<line x1="258.42" y1="181" x2="258.42" y2="183.5" stroke="#222" stroke-width="1.2" />
<line x1="294.61" y1="282.2" x2="294.61" y2="279.7" stroke="#222" stroke-width="1.2" />
<line x1="294.61" y1="181" x2="294.61" y2="183.5" stroke="#222" stroke-width="1.2" />
<line x1="77.5" y1="282.2" x2="81.5" y2="282.2" stroke="#222" stroke-width="1.2" />
<line x1="312.7" y1="282.2" x2="308.7" y2="282.2" stroke="#222" stroke-width="1.2" />
<line x1="77.5" y1="236.2" x2="81.5" y2="236.2" stroke="#222" stroke-width="1.2" />
<line x1="312.7" y1="236.2" x2="308.7" y2="236.2" stroke="#222" stroke-width="1.2" />
<line x1="77.5" y1="190.2" x2="81.5" y2="190.2" stroke="#222" stroke-width="1.2" />
<line x1="312.7" y1="190.2" x2="308.7" y2="190.2" stroke="#222" stroke-width="1.2" />
<line x1="77.5" y1="273" x2="80" y2="273" stroke="#222" stroke-width="1.2" />
<line x1="312.7" y1="273" x2="310.2" y2="273" stroke="#222" stroke-width="1.2" />
<line x1="77.5" y1="263.8" x2="80" y2="263.8" stroke="#222" stroke-width="1.2" />
<line x1="312.7" y1="263.8" x2="310.2" y2="263.8" stroke="#222" stroke-width="1.2" />
<line x1="77.5" y1="254.6" x2="80" y2="254.6" stroke="#222" stroke-width="1.2" />
<line x1="312.7" y1="254.6" x2="310.2" y2="254.6" stroke="#222" stroke-width="1.2" />
<line x1="77.5" y1="245.4" x2="80" y2="245.4" stroke="#222" stroke-width="1.2" />
<line x1="312.7" y1="245.4" x2="310.2" y2="245.4" stroke="#222" stroke-width="1.2" />
<line x1="77.5" y1="227" x2="80" y2="227" stroke="#222" stroke-width="1.2" />
<line x1="312.7" y1="227" x2="310.2" y2="227" stroke="#222" stroke-width="1.2" />
<line x1="77.5" y1="217.8" x2="80" y2="217.8" stroke="#222" stroke-width="1.2" />
<line x1="312.7" y1="217.8" x2="310.2" y2="217.8" stroke="#222" stroke-width="1.2" />
<line x1="77.5" y1="208.6" x2="80" y2="208.6" stroke="#222" stroke-width="1.2" />
<line x1="312.7" y1="208.6" x2="310.2" y2="208.6" stroke="#222" stroke-width="1.2" />
<line x1="77.5" y1="199.4" x2="80" y2="199.4" stroke="#222" stroke-width="1.2" />
<line x1="312.7" y1="199.4" x2="310.2" y2="199.4" stroke="#222" stroke-width="1.2" />
<text x="95.59" y="301.5" font-size="14" text-anchor="middle" fill="#111"  stroke="#111" stroke-width="0.3">1.8</text>
<text x="131.78" y="301.5" font-size="14" text-anchor="middle" fill="#111"  stroke="#111" stroke-width="0.3">2.0</text>
<text x="167.96" y="301.5" font-size="14" text-anchor="middle" fill="#111"  stroke="#111" stroke-width="0.3">2.2</text>
<text x="204.15" y="301.5" font-size="14" text-anchor="middle" fill="#111"  stroke="#111" stroke-width="0.3">2.4</text>
<text x="240.33" y="301.5" font-size="14" text-anchor="middle" fill="#111"  stroke="#111" stroke-width="0.3">2.6</text>
<text x="276.52" y="301.5" font-size="14" text-anchor="middle" fill="#111"  stroke="#111" stroke-width="0.3">2.8</text>
<text x="312.7" y="301.5" font-size="14" text-anchor="middle" fill="#111"  stroke="#111" stroke-width="0.3">3.0</text>
<text x="70.4" y="195.2" font-size="14" text-anchor="end" fill="#111"  stroke="#111" stroke-width="0.3">1</text>
<text x="70.4" y="241.2" font-size="14" text-anchor="end" fill="#111"  stroke="#111" stroke-width="0.3">0</text>
<text x="70.4" y="287.2" font-size="14" text-anchor="end" fill="#111"  stroke="#111" stroke-width="0.3">-1</text>
<polyline points="76.9,425.46 77.4,425.3 77.9,425.15 78.4,425 78.9,424.84 79.4,424.69 79.9,424.54 80.4,424.39 80.9,424.24 81.4,424.09 81.9,423.94 82.4,423.78 82.9,423.63 83.4,423.49 83.9,423.34 84.4,423.19 84.9,423.04 85.4,422.89 85.9,422.74 86.4,422.6 86.9,422.45 87.4,422.3 87.9,422.16 88.4,422.01 88.9,421.86 89.4,421.72 89.9,421.57 90.4,421.43 90.9,421.28 91.4,421.14 91.9,421 92.4,420.85 92.9,420.71 93.4,420.57 93.9,420.43 94.4,420.29 94.9,420.14 95.4,420 95.9,419.86 96.4,419.72 96.9,419.58 97.4,419.44 97.9,419.3 98.4,419.16 98.9,419.03 99.4,418.89 99.9,418.75 100.4,418.61 100.9,418.48 101.4,418.34 101.9,418.2 102.4,418.07 102.9,417.93 103.4,417.79 103.9,417.66 104.4,417.52 104.9,417.39 105.4,417.26 105.9,417.12 106.4,416.99 106.9,416.86 107.4,416.72 107.9,416.59 108.4,416.46 108.9,416.33 109.4,416.2 109.9,416.06 110.4,415.93 110.9,415.8 111.4,415.67 111.9,415.54 112.4,415.41 112.9,415.29 113.4,415.16 113.9,415.03 114.4,414.9 114.9,414.77 115.4,414.65 115.9,414.52 116.4,414.39 116.9,414.26 117.4,414.14 117.9,414.01 118.4,413.89 118.9,413.76 119.4,413.64 119.9,413.51 120.4,413.39 120.9,413.27 121.4,413.14 121.9,413.02 122.4,412.9 122.9,412.77 123.4,412.65 123.9,412.53 124.4,412.41 124.9,412.29 125.4,412.16 125.9,412.04 126.4,411.92 126.9,411.8 127.4,411.68 127.9,411.56 128.4,411.45 128.9,411.33 129.4,411.21 129.9,411.09 130.4,410.97 130.9,410.85 131.4,410.74 131.9,410.62 132.4,410.5 132.9,410.39 133.4,410.27 133.9,410.16 134.4,410.04 134.9,409.93 135.4,409.81 135.9,409.7 136.4,409.58 136.9,409.47 137.4,409.35 137.9,409.24 138.4,409.13 138.9,409.02 139.4,408.9 139.9,408.79 140.4,408.68 140.9,408.57 141.4,408.46 141.9,408.35 142.4,408.23 142.9,408.12 143.4,408.01 143.9,407.9 144.4,407.8 144.9,407.69 145.4,407.58 145.9,407.47 146.4,407.36 146.9,407.25 147.4,407.14 147.9,407.04 148.4,406.93 148.9,406.82 149.4,406.72 149.9,406.61 150.4,406.5 150.9,406.4 151.4,406.29 151.9,406.19 152.4,406.08 152.9,405.98 153.4,405.87 153.9,405.77 154.4,405.67 154.9,405.56 155.4,405.46 155.9,405.36 156.4,405.25 156.9,405.15 157.4,405.05 157.9,404.95 158.4,404.85 158.9,404.75 159.4,404.65 159.9,404.54 160.4,404.44 160.9,404.34 161.4,404.24 161.9,404.14 162.4,404.05 162.9,403.95 163.4,403.85 163.9,403.75 164.4,403.65 164.9,403.55 165.4,403.45 165.9,403.36 166.4,403.26 166.9,403.16 167.4,403.07 167.9,402.97 168.4,402.87 168.9,402.78 169.4,402.68 169.9,402.59 170.4,402.49 170.9,402.4 171.4,402.3 171.9,402.21 172.4,402.11 172.9,402.02 173.4,401.93 173.9,401.83 174.4,401.74 174.9,401.65 175.4,401.56 175.9,401.46 176.4,401.37 176.9,401.28 177.4,401.19 177.9,401.1 178.4,401.01 178.9,400.91 179.4,400.82 179.9,400.73 180.4,400.64 180.9,400.55 181.4,400.46 181.9,400.38 182.4,400.29 182.9,400.2 183.4,400.11 183.9,400.02 184.4,399.93 184.9,399.85 185.4,399.76 185.9,399.67 186.4,399.58 186.9,399.5 187.4,399.41 187.9,399.32 188.4,399.24 188.9,399.15 189.4,399.07 189.9,398.98 190.4,398.9 190.9,398.81 191.4,398.73 191.9,398.64 192.4,398.56 192.9,398.47 193.4,398.39 193.9,398.31 194.4,398.22 194.9,398.14 195.4,398.06 195.9,397.97 196.4,397.89 196.9,397.81 197.4,397.73 197.9,397.65 198.4,397.56 198.9,397.48 199.4,397.4 199.9,397.32 200.4,397.24 200.9,397.16 201.4,397.08 201.9,397 202.4,396.92 202.9,396.84 203.4,396.76 203.9,396.68 204.4,396.6 204.9,396.53 205.4,396.45 205.9,396.37 206.4,396.29 206.9,396.21 207.4,396.14 207.9,396.06 208.4,395.98 208.9,395.91 209.4,395.83 209.9,395.75 210.4,395.68 210.9,395.6 211.4,395.52 211.9,395.45 212.4,395.37 212.9,395.3 213.4,395.22 213.9,395.15 214.4,395.07 214.9,395 215.4,394.93 215.9,394.85 216.4,394.78 216.9,394.7 217.4,394.63 217.9,394.56 218.4,394.49 218.9,394.41 219.4,394.34 219.9,394.27 220.4,394.2 220.9,394.12 221.4,394.05 221.9,393.98 222.4,393.91 222.9,393.84 223.4,393.77 223.9,393.7 224.4,393.63 224.9,393.56 225.4,393.49 225.9,393.42 226.4,393.35 226.9,393.28 227.4,393.21 227.9,393.14 228.4,393.07 228.9,393 229.4,392.93 229.9,392.86 230.4,392.79 230.9,392.73 231.4,392.66 231.9,392.59 232.4,392.52 232.9,392.46 233.4,392.39 233.9,392.32 234.4,392.26 234.9,392.19 235.4,392.12 235.9,392.06 236.4,391.99 236.9,391.92 237.4,391.86 237.9,391.79 238.4,391.73 238.9,391.66 239.4,391.6 239.9,391.53 240.4,391.47 240.9,391.4 241.4,391.34 241.9,391.28 242.4,391.21 242.9,391.15 243.4,391.08 243.9,391.02 244.4,390.96 244.9,390.89 245.4,390.83 245.9,390.77 246.4,390.71 246.9,390.64 247.4,390.58 247.9,390.52 248.4,390.46 248.9,390.4 249.4,390.33 249.9,390.27 250.4,390.21 250.9,390.15 251.4,390.09 251.9,390.03 252.4,389.97 252.9,389.91 253.4,389.85 253.9,389.79 254.4,389.73 254.9,389.67 255.4,389.61 255.9,389.55 256.4,389.49 256.9,389.43 257.4,389.37 257.9,389.31 258.4,389.25 258.9,389.2 259.4,389.14 259.9,389.08 260.4,389.02 260.9,388.96 261.4,388.91 261.9,388.85 262.4,388.79 262.9,388.73 263.4,388.68 263.9,388.62 264.4,388.56 264.9,388.5 265.4,388.45 265.9,388.39 266.4,388.34 266.9,388.28 267.4,388.22 267.9,388.17 268.4,388.11 268.9,388.06 269.4,388 269.9,387.95 270.4,387.89 270.9,387.83 271.4,387.78 271.9,387.73 272.4,387.67 272.9,387.62 273.4,387.56 273.9,387.51 274.4,387.45 274.9,387.4 275.4,387.35 275.9,387.29 276.4,387.24 276.9,387.18 277.4,387.13 277.9,387.08 278.4,387.03 278.9,386.97 279.4,386.92 279.9,386.87 280.4,386.81 280.9,386.76 281.4,386.71 281.9,386.66 282.4,386.61 282.9,386.55 283.4,386.5 283.9,386.45 284.4,386.4 284.9,386.35 285.4,386.3 285.9,386.24 286.4,386.19 286.9,386.14 287.4,386.09 287.9,386.04 288.4,385.99 288.9,385.94 289.4,385.89 289.9,385.84 290.4,385.79 290.9,385.74 291.4,385.69 291.9,385.64 292.4,385.59 292.9,385.54 293.4,385.49 293.9,385.44 294.4,385.39 294.9,385.34 295.4,385.29 295.9,385.24 296.4,385.2 296.9,385.15 297.4,385.1 297.9,385.05 298.4,385 298.9,384.95 299.4,384.9 299.9,384.86 300.4,384.81 300.9,384.76 301.4,384.71 301.9,384.67 302.4,384.62 302.9,384.57 303.4,384.52 303.9,384.48 304.4,384.43 304.9,384.38 305.4,384.33 305.9,384.29 306.4,384.24 306.9,384.19 307.4,384.15 307.9,384.1 308.4,384.05 308.9,384.01 309.4,383.96 309.9,383.92 310.4,383.87 310.9,383.82 311.4,383.78 311.9,383.73 312.4,383.69 312.5,383.68" fill="none" stroke="#151515" stroke-width="1.3" stroke-linejoin="round" />
<polyline points="76.9,425.31 77.4,425.28 77.9,425.26 78.4,425.23 78.9,425.2 79.4,425.16 79.9,425.13 80.4,425.09 80.9,425.05 81.4,425 81.9,424.96 82.4,424.91 82.9,424.86 83.4,424.81 83.9,424.75 84.4,424.69 84.9,424.64 85.4,424.57 85.9,424.51 86.4,424.45 86.9,424.38 87.4,424.31 87.9,424.24 88.4,424.17 88.9,424.09 89.4,424.01 89.9,423.94 90.4,423.86 90.9,423.77 91.4,423.69 91.9,423.61 92.4,423.52 92.9,423.43 93.4,423.34 93.9,423.25 94.4,423.16 94.9,423.07 95.4,422.98 95.9,422.88 96.4,422.78 96.9,422.69 97.4,422.59 97.9,422.49 98.4,422.39 98.9,422.28 99.4,422.18 99.9,422.08 100.4,421.97 100.9,421.87 101.4,421.76 101.9,421.65 102.4,421.54 102.9,421.43 103.4,421.32 103.9,421.2 104.4,421.08 104.9,420.97 105.4,420.84 105.9,420.72 106.4,420.59 106.9,420.46 107.4,420.33 107.9,420.2 108.4,420.06 108.9,419.91 109.4,419.77 109.9,419.62 110.4,419.47 110.9,419.31 111.4,419.15 111.9,418.98 112.4,418.81 112.9,418.64 113.4,418.46 113.9,418.27 114.4,418.08 114.9,417.89 115.4,417.69 115.9,417.48 116.4,417.27 116.9,417.06 117.4,416.83 117.9,416.6 118.4,416.37 118.9,416.13 119.4,415.88 119.9,415.62 120.4,415.36 120.9,415.09 121.4,414.82 121.9,414.53 122.4,414.24 122.9,413.94 123.4,413.64 123.9,413.32 124.4,413 124.9,412.67 125.4,412.34 125.9,411.99 126.4,411.64 126.9,411.29 127.4,410.93 127.9,410.56 128.4,410.18 128.9,409.8 129.4,409.42 129.9,409.03 130.4,408.64 130.9,408.24 131.4,407.83 131.9,407.43 132.4,407.02 132.9,406.6 133.4,406.19 133.9,405.77 134.4,405.34 134.9,404.92 135.4,404.49 135.9,404.06 136.4,403.63 136.9,403.2 137.4,402.76 137.9,402.33 138.4,401.89 138.9,401.46 139.4,401.02 139.9,400.59 140.4,400.15 140.9,399.72 141.4,399.28 141.9,398.85 142.4,398.42 142.9,397.99 143.4,397.56 143.9,397.13 144.4,396.71 144.9,396.29 145.4,395.87 145.9,395.45 146.4,395.04 146.9,394.63 147.4,394.22 147.9,393.82 148.4,393.42 148.9,393.03 149.4,392.64 149.9,392.25 150.4,391.87 150.9,391.49 151.4,391.11 151.9,390.73 152.4,390.36 152.9,390 153.4,389.63 153.9,389.27 154.4,388.91 154.9,388.55 155.4,388.2 155.9,387.85 156.4,387.5 156.9,387.16 157.4,386.82 157.9,386.48 158.4,386.14 158.9,385.8 159.4,385.47 159.9,385.14 160.4,384.81 160.9,384.49 161.4,384.17 161.9,383.84 162.4,383.52 162.9,383.21 163.4,382.89 163.9,382.58 164.4,382.27 164.9,381.96 165.4,381.65 165.9,381.34 166.4,381.04 166.9,380.74 167.4,380.44 167.9,380.14 168.4,379.84 168.9,379.55 169.4,379.25 169.9,378.96 170.4,378.67 170.9,378.38 171.4,378.1 171.9,377.81 172.4,377.53 172.9,377.25 173.4,376.97 173.9,376.69 174.4,376.41 174.9,376.14 175.4,375.86 175.9,375.59 176.4,375.32 176.9,375.05 177.4,374.78 177.9,374.52 178.4,374.25 178.9,373.99 179.4,373.73 179.9,373.47 180.4,373.21 180.9,372.96 181.4,372.7 181.9,372.44 182.4,372.19 182.9,371.94 183.4,371.69 183.9,371.44 184.4,371.19 184.9,370.95 185.4,370.7 185.9,370.46 186.4,370.21 186.9,369.97 187.4,369.73 187.9,369.49 188.4,369.26 188.9,369.02 189.4,368.78 189.9,368.55 190.4,368.32 190.9,368.08 191.4,367.85 191.9,367.62 192.4,367.39 192.9,367.17 193.4,366.94 193.9,366.71 194.4,366.49 194.9,366.26 195.4,366.04 195.9,365.82 196.4,365.6 196.9,365.38 197.4,365.16 197.9,364.94 198.4,364.72 198.9,364.5 199.4,364.29 199.9,364.07 200.4,363.86 200.9,363.65 201.4,363.43 201.9,363.22 202.4,363.01 202.9,362.8 203.4,362.59 203.9,362.38 204.4,362.17 204.9,361.96 205.4,361.76 205.9,361.55 206.4,361.34 206.9,361.14 207.4,360.93 207.9,360.73 208.4,360.53 208.9,360.32 209.4,360.12 209.9,359.92 210.4,359.72 210.9,359.52 211.4,359.32 211.9,359.12 212.4,358.92 212.9,358.72 213.4,358.52 213.9,358.32 214.4,358.12 214.9,357.93 215.4,357.73 215.9,357.53 216.4,357.34 216.9,357.14 217.4,356.95 217.9,356.75 218.4,356.56 218.9,356.37 219.4,356.17 219.9,355.98 220.4,355.79 220.9,355.6 221.4,355.41 221.9,355.22 222.4,355.03 222.9,354.84 223.4,354.65 223.9,354.46 224.4,354.28 224.9,354.09 225.4,353.9 225.9,353.72 226.4,353.53 226.9,353.35 227.4,353.16 227.9,352.98 228.4,352.8 228.9,352.61 229.4,352.43 229.9,352.25 230.4,352.07 230.9,351.89 231.4,351.71 231.9,351.53 232.4,351.35 232.9,351.17 233.4,351 233.9,350.82 234.4,350.64 234.9,350.47 235.4,350.29 235.9,350.12 236.4,349.94 236.9,349.77 237.4,349.6 237.9,349.42 238.4,349.25 238.9,349.08 239.4,348.91 239.9,348.74 240.4,348.57 240.9,348.4 241.4,348.24 241.9,348.07 242.4,347.9 242.9,347.73 243.4,347.57 243.9,347.4 244.4,347.24 244.9,347.08 245.4,346.91 245.9,346.75 246.4,346.59 246.9,346.43 247.4,346.27 247.9,346.11 248.4,345.95 248.9,345.79 249.4,345.63 249.9,345.47 250.4,345.32 250.9,345.16 251.4,345.01 251.9,344.85 252.4,344.7 252.9,344.54 253.4,344.39 253.9,344.24 254.4,344.09 254.9,343.94 255.4,343.79 255.9,343.64 256.4,343.49 256.9,343.34 257.4,343.19 257.9,343.05 258.4,342.9 258.9,342.75 259.4,342.61 259.9,342.47 260.4,342.32 260.9,342.18 261.4,342.04 261.9,341.9 262.4,341.76 262.9,341.62 263.4,341.48 263.9,341.34 264.4,341.2 264.9,341.07 265.4,340.93 265.9,340.79 266.4,340.66 266.9,340.53 267.4,340.39 267.9,340.26 268.4,340.13 268.9,340 269.4,339.87 269.9,339.74 270.4,339.61 270.9,339.48 271.4,339.35 271.9,339.23 272.4,339.1 272.9,338.98 273.4,338.85 273.9,338.73 274.4,338.61 274.9,338.48 275.4,338.36 275.9,338.24 276.4,338.12 276.9,338 277.4,337.88 277.9,337.77 278.4,337.65 278.9,337.54 279.4,337.42 279.9,337.31 280.4,337.19 280.9,337.08 281.4,336.97 281.9,336.86 282.4,336.75 282.9,336.64 283.4,336.53 283.9,336.42 284.4,336.31 284.9,336.21 285.4,336.1 285.9,336 286.4,335.89 286.9,335.79 287.4,335.69 287.9,335.59 288.4,335.49 288.9,335.39 289.4,335.29 289.9,335.19 290.4,335.09 290.9,335 291.4,334.9 291.9,334.81 292.4,334.71 292.9,334.62 293.4,334.53 293.9,334.44 294.4,334.34 294.9,334.26 295.4,334.17 295.9,334.08 296.4,333.99 296.9,333.91 297.4,333.82 297.9,333.74 298.4,333.65 298.9,333.57 299.4,333.49 299.9,333.41 300.4,333.33 300.9,333.25 301.4,333.17 301.9,333.09 302.4,333.02 302.9,332.94 303.4,332.87 303.9,332.79 304.4,332.72 304.9,332.65 305.4,332.58 305.9,332.51 306.4,332.44 306.9,332.37 307.4,332.3 307.9,332.23 308.4,332.17 308.9,332.1 309.4,332.04 309.9,331.98 310.4,331.91 310.9,331.85 311.4,331.79 311.9,331.73 312.4,331.68 312.5,331.66" fill="none" stroke="#d42a3a" stroke-width="1.3" stroke-linejoin="round" />
<rect x="76.9" y="324.6" width="235.6" height="100.9" fill="none" stroke="#222" stroke-width="1.2"/>
<line x1="144.21" y1="425.5" x2="144.21" y2="421.5" stroke="#222" stroke-width="1.2" />
<line x1="144.21" y1="324.6" x2="144.21" y2="328.6" stroke="#222" stroke-width="1.2" />
<line x1="211.53" y1="425.5" x2="211.53" y2="421.5" stroke="#222" stroke-width="1.2" />
<line x1="211.53" y1="324.6" x2="211.53" y2="328.6" stroke="#222" stroke-width="1.2" />
<line x1="278.84" y1="425.5" x2="278.84" y2="421.5" stroke="#222" stroke-width="1.2" />
<line x1="278.84" y1="324.6" x2="278.84" y2="328.6" stroke="#222" stroke-width="1.2" />
<line x1="110.56" y1="425.5" x2="110.56" y2="423" stroke="#222" stroke-width="1.2" />
<line x1="110.56" y1="324.6" x2="110.56" y2="327.1" stroke="#222" stroke-width="1.2" />
<line x1="177.87" y1="425.5" x2="177.87" y2="423" stroke="#222" stroke-width="1.2" />
<line x1="177.87" y1="324.6" x2="177.87" y2="327.1" stroke="#222" stroke-width="1.2" />
<line x1="245.19" y1="425.5" x2="245.19" y2="423" stroke="#222" stroke-width="1.2" />
<line x1="245.19" y1="324.6" x2="245.19" y2="327.1" stroke="#222" stroke-width="1.2" />
<line x1="76.9" y1="383.65" x2="81.4" y2="383.65" stroke="#222" stroke-width="1.2" />
<line x1="312.5" y1="383.65" x2="308" y2="383.65" stroke="#222" stroke-width="1.2" />
<line x1="76.9" y1="342" x2="81.4" y2="342" stroke="#222" stroke-width="1.2" />
<line x1="312.5" y1="342" x2="308" y2="342" stroke="#222" stroke-width="1.2" />
<text x="76.9" y="445.4" font-size="12.5" text-anchor="middle" fill="#111"  stroke="#111" stroke-width="0.3">0</text>
<text x="144.21" y="445.4" font-size="12.5" text-anchor="middle" fill="#111"  stroke="#111" stroke-width="0.3">2</text>
<text x="211.53" y="445.4" font-size="12.5" text-anchor="middle" fill="#111"  stroke="#111" stroke-width="0.3">4</text>
<text x="278.84" y="445.4" font-size="12.5" text-anchor="middle" fill="#111"  stroke="#111" stroke-width="0.3">6</text>
<text x="70.8" y="429.8" font-size="12.5" text-anchor="end" fill="#111"  stroke="#111" stroke-width="0.3">0.0</text>
<text x="70.8" y="388.15" font-size="12.5" text-anchor="end" fill="#111"  stroke="#111" stroke-width="0.3">0.5</text>
<text x="70.8" y="346.5" font-size="12.5" text-anchor="end" fill="#111"  stroke="#111" stroke-width="0.3">1.0</text>
<rect x="383" y="35.6" width="39" height="169.2" fill="#dedede"/>
<polyline points="376.6,203.2 383.2,203.2" fill="none" stroke="#5a0a10" stroke-width="1.5" stroke-linejoin="round" />
<polyline points="383,202.51 383.25,195.81 383.5,191.39 383.75,188.05 384,185.61 384.25,183.92 384.5,182.54 384.75,180.71 385,179.03 385.25,177.78 385.5,176.65 385.75,175.29 386,174.17 386.25,173.45 386.5,172.34 386.75,171.69 387,170.93 387.25,170.67 387.5,169.23 387.75,168.68 388,167.96 388.25,167.4 388.5,166.85 388.75,165.85 389,165.13 389.25,164.33 389.5,163.89 389.75,163.65 390,163.01 390.25,162.27 390.5,161.92 390.75,161.53 391,161.17 391.25,160.48 391.5,160.11 391.75,159.33 392,159.06 392.25,159.25 392.5,158.01 392.75,158.02 393,157.75 393.25,157.23 393.5,156.76 393.75,156.54 394,156.18 394.25,155.79 394.5,155.03 394.75,155.04 395,154.51 395.25,154.21 395.5,154.01 395.75,153.74 396,153.43 396.25,152.77 396.5,152.73 396.75,152.43 397,152.07 397.25,151.79 397.5,151.11 397.75,150.76 398,150.65 398.25,149.84 398.5,149.87 398.75,149.39 399,149.11 399.25,148.5 399.5,148.39 399.75,148.28 400,148.2 400.25,147.93 400.5,147.42 400.75,147.12 401,146.71 401.25,146.72 401.5,146.31 401.75,146.24 402,146.24 402.25,145.6 402.5,145.03 402.75,144.92 403,144.55 403.25,144.37 403.5,144.68 403.75,144.21 404,143.59 404.25,143.84 404.5,143.74 404.75,143.15 405,142.85 405.25,142.7 405.5,142.61 405.75,142.46 406,142.36 406.25,142.15 406.5,141.93 406.75,141.75 407,141.38 407.25,140.69 407.5,140.78 407.75,140.67 408,140.31 408.25,140.39 408.5,139.9 408.75,139.57 409,139.89 409.25,139.51 409.5,139.21 409.75,139.16 410,138.98 410.25,138.62 410.5,137.8 410.75,137.99 411,137.83 411.25,137.52 411.5,137.58 411.75,137.59 412,137.02 412.25,136.68 412.5,137.18 412.75,136.44 413,136.07 413.25,136.19 413.5,136.04 413.75,135.6 414,135.73 414.25,135.26 414.5,134.98 414.75,135.03 415,134.97 415.25,134.47 415.5,134.5 415.75,134.22 416,134.67 416.25,133.71 416.5,133.99 416.75,133.49 417,133.29 417.25,133.3 417.5,133.15 417.75,133.05 418,132.67 418.25,132.28 418.5,132.12 418.75,132.17 419,132.01 419.25,132.02 419.5,131.63 419.75,131.59 420,131.52 420.25,131.05 420.5,130.52 420.75,130.41 421,130.19 421.25,130.68 421.3,130.11 421.8,131.58 422.3,132.9 422.8,133.52 423.3,133.84 423.8,134.35 424.3,134.9 424.8,135.37 425.3,135.62 425.8,136.25 426.3,137.19 426.8,136.57 427.3,137.43 427.8,137.32 428.3,137.87 428.8,138.26 429.3,138.17 429.8,138.59 430.3,138.04 430.8,138.99 431.3,138.62 431.8,139.13 432.3,139.14 432.8,138.44 433.3,139.12 433.8,139.54 434.3,140.07 434.8,139.8 435.3,139.91 435.8,139.52 436.3,140.48 436.8,140.7 437.3,140.27 437.8,140.3 438.3,139.98 438.8,140.83 439.3,141.48 439.8,140.98 440.3,141.24 440.8,141.12 441.3,140.75 441.8,141.54 442.3,140.86 442.8,141.26 443.3,141.5 443.8,141.78 444.3,141.73 444.8,141.81 445.3,141.55 445.8,141.48 446.3,141.98 446.8,141.83 447.3,141.74 447.8,141.84 448.3,142.15 448.8,141.83 449.3,142.06 449.8,142.06 450.3,142.68 450.8,142.83 451.3,143.39 451.8,142.42 452.3,142.74 452.8,143.29 453.3,143.03 453.8,143.07 454.3,143.76 454.8,143.21 455.3,143.04 455.8,143.06 456.3,143.63 456.8,143.69 457.3,143.25 457.8,143.43 458.3,143.95 458.8,144.03 459.3,143.72 459.8,144.16 460.3,144.21 460.8,143.56 461.3,144.06 461.8,144.33 462.3,144.09 462.8,143.68 463.3,144.29 463.8,144.65 464.3,144.95 464.8,143.87 465.3,145.37 465.8,144.29 466.3,144.97 466.8,145.1 467.3,145.07 467.8,144.87 468.3,144.53 468.8,145.11 469.3,144.75 469.8,144.26 470.3,145.91 470.8,145.32 471.3,145.69 471.8,144.92 472.3,145.68 472.8,145.76 473.3,145.79 473.8,145.36 474.3,145.05 474.8,145.4 475.3,144.84 475.8,145.03 476.3,145.61 476.8,145.33 477.3,145.62 477.8,145.68 478.3,146.33 478.8,146.19 479.3,145.83 479.8,146.25 480.3,145.69 480.8,145.87 481.3,146.29 481.8,145.68 482.3,146.01 482.8,145.74 483.3,146.22 483.8,146.71 484.3,146.04 484.8,146.37 485.3,146.08 485.8,146.04 486.3,146.06 486.8,146.9 487.3,147.22 487.8,146.69 488.3,146.37 488.8,146.84 489.3,146.57 489.8,146.95 490.3,146.83 490.8,146.87 491.3,147.01 491.8,146.69 492.3,146.78 492.8,146.43 493.3,146.85 493.8,146.59 494.3,147.02 494.8,146.81 495.3,147.17 495.8,147.31 496.3,146.79 496.8,147.01 497.3,147.01 497.8,147.55 498.3,147.88 498.8,147.66 499.3,147.34 499.8,147.92 500.3,147.07 500.8,148.01 501.3,147.4 501.8,146.81 502.3,148.48 502.8,148.19 503.3,147.45 503.8,147.85 504.3,147.78 504.8,147.91 505.3,147.48 505.8,147.76 506.3,148.15 506.8,148.11 507.3,148.45 507.8,148.15 508.3,148.87 508.8,147.99 509.3,148.32 509.8,147.71 510.3,147.95 510.8,148.76 511.3,148.12 511.8,148.6 512.3,148.46 512.8,148.21 513.3,148.45 513.8,148.44 514.3,148.48 514.8,148.89 515.3,148.9 515.8,148.56 516.3,148.5 516.8,148.89 517.3,148.81 517.8,149.18 518.3,149.7 518.8,149.18 519.3,148.95 519.8,148.94 520.3,148.76 520.8,148.77 521.3,148.77 521.8,148.98 522.3,149 522.8,149.38 523.3,149.06 523.8,149.15 524.3,148.87 524.8,149.75 525.3,149.44 525.8,149.85 526.3,149.58 526.8,149.81 527.3,149.31 527.8,149.63 528.3,150.25 528.8,149.09 529.3,149.84 529.8,150.02 530.3,149.66 530.8,149.79 531.3,149.96 531.8,149.4 532.3,149.75 532.8,149.38 533.3,149.46 533.8,149.5 534.3,149.67 534.8,149.78 535.3,149.9 535.8,149.34 536.3,150.41 536.8,150.18 537.3,150.07 537.8,149.75 538.3,149.86 538.8,150.07 539.3,150.05 539.8,149.43 540.3,150.19 540.8,150.88 541.3,149.43 541.8,150.32 542.3,150.15 542.8,150.02 543.3,150.49 543.8,149.73 544.3,150.16 544.8,150.58 545.3,150.08 545.8,150.03 546.3,150.21 546.8,150.06 547.3,150.69 547.8,149.95 548.3,150.51 548.8,149.87 549.3,150.48 549.8,150.26 550.3,149.51 550.8,150.32 551.3,150.01 551.8,150.21 552.3,150.84 552.8,150.03 553.3,150.07 553.8,150.85 554.3,150.46 554.8,150.91 555.3,150.55 555.8,150.19 556.3,150.46 556.8,150.87 557.3,150.79 557.8,150.52 558.3,150.55 558.8,150.51 559.3,150.38 559.8,151.16 560.3,150.58 560.8,150.25 561.3,150.46 561.8,150.84 562.3,150.83 562.8,150.6 563.3,150.45 563.8,150.68 564.3,150.16 564.8,150.29 565.3,150.95 565.8,150.57 566.3,150.84 566.8,151.12 567.3,150.95 567.8,150.77 568.3,151.43 568.8,150.99 569.3,150.69 569.8,151.04 570.3,150.95 570.8,150.57 571.3,150.87 571.8,150.81 572.3,150.26 572.8,150.83 573.3,150.8 573.8,150.77 574.3,150.41 574.8,150.82 575.3,150.93 575.8,150.98 576.3,150.61 576.8,151.17 577.3,150.61 577.8,150.93 578.3,151.41 578.8,150.81 579.3,150.87 579.8,151.37 580.3,150.93 580.8,150.97 581.3,151.14 581.8,151.41 582.3,150.42 582.8,150.86 583.3,150.81 583.8,150.8 584.3,150.88 584.8,150.9 585.3,151.26 585.8,150.9 586.3,151.23 586.8,151.32 587.3,150.99 587.8,151.26 588.3,151.74 588.8,151.34 589.3,151.06 589.8,151.25 590.3,151 590.8,151.37 591.3,151.56 591.8,151.06 592.3,151.26 592.8,151.67 593.3,151.19 593.8,151.41 594.3,151.05 594.8,151.12 595.3,151.23 595.8,152.05 596.3,151.28 596.8,151.26 597.3,151.26 597.8,151.39 598.3,151.65 598.8,151.52 599.3,152.09 599.8,151.54 600.3,151.92 600.8,151.58 601.3,151.69 601.8,151.09 602.3,151.49 602.8,151.52 603.3,151.48 603.8,150.91 604.3,151.83 604.8,151.46 605.3,151.46 605.8,151.52 606.3,151.54 606.8,151.74 607.3,151.25 607.8,151.36 608.3,151.74 608.8,151.7 609.3,151.55 609.8,151.51 610.3,151.44 610.8,151.68 611,152.05" fill="none" stroke="#5e0c12" stroke-width="1.4" stroke-linejoin="round" />
<polyline points="383,202.57 383.25,197.8 383.5,192.11 383.75,186.07 384,180.28 384.25,173.39 384.5,167.02 384.75,161.19 385,155.59 385.25,150.07 385.5,144.89 385.75,139.98 386,134.71 386.25,131.63 386.5,128.86 386.75,127.01 387,125.31 387.25,123.65 387.5,122.31 387.75,121.3 388,120.6 388.25,119.92 388.5,119.18 388.75,118.16 389,117.59 389.25,117 389.5,116.77 389.75,115.73 390,115.99 390.25,115.17 390.5,114.68 390.75,114.5 391,114.23 391.25,113.66 391.5,113.41 391.75,112.82 392,112.68 392.25,112.32 392.5,111.68 392.75,111.67 393,111.06 393.25,110.71 393.5,110.17 393.75,109.99 394,109.91 394.25,109.14 394.5,109.26 394.75,108.89 395,108.56 395.25,107.7 395.5,107.86 395.75,107.71 396,107.1 396.25,106.98 396.5,106.14 396.75,106.51 397,105.92 397.25,105.96 397.5,105.08 397.75,105.35 398,104.86 398.25,104.81 398.5,104.15 398.75,103.95 399,104.31 399.25,103.38 399.5,103.15 399.75,102.99 400,102.58 400.25,102.82 400.5,102.7 400.75,101.92 401,101.46 401.25,101.87 401.5,101.63 401.75,101.34 402,101.19 402.25,100.52 402.5,100.46 402.75,99.98 403,99.76 403.25,100.08 403.5,99.51 403.75,99.96 404,99.28 404.25,98.92 404.5,99.05 404.75,99.08 405,98.61 405.25,98.05 405.5,98.23 405.75,98.28 406,97.7 406.25,97.47 406.5,97.71 406.75,97.36 407,96.93 407.25,96.94 407.5,96.7 407.75,96.78 408,96.59 408.25,96.67 408.5,96.42 408.75,95.77 409,96.04 409.25,95.99 409.5,95.73 409.75,95.7 410,95.18 410.25,94.92 410.5,95.15 410.75,94.53 411,94.11 411.25,94.62 411.5,94.05 411.75,93.95 412,93.52 412.25,93.34 412.5,93.19 412.75,93.17 413,93.14 413.25,92.36 413.5,92.84 413.75,92.23 414,92.07 414.25,92.27 414.5,91.93 414.75,91.43 415,92.01 415.25,91.24 415.5,91.32 415.75,91.14 416,91.24 416.25,90.67 416.5,90.83 416.75,90.28 417,90.53 417.25,89.95 417.5,89.88 417.75,90.22 418,89.72 418.25,89.52 418.5,89.83 418.75,89.27 419,88.86 419.25,89.05 419.5,88.48 419.75,88.84 420,88.71 420.25,88.17 420.5,88.02 420.75,88.05 421,87.88 421.25,87.52 421.5,87.72 422,91.62 422.5,94.77 423,96.52 423.5,97.74 424,98.13 424.5,99.53 425,100.1 425.5,100.71 426,101.19 426.5,101.9 427,102.98 427.5,103.17 428,104.05 428.5,104.91 429,105.43 429.5,106.09 430,106.01 430.5,106.21 431,107.24 431.5,107.39 432,107.97 432.5,107.95 433,108.61 433.5,108.79 434,109.03 434.5,109.23 435,109.45 435.5,109.64 436,109.87 436.5,110.33 437,110.1 437.5,110.99 438,110.65 438.5,111.18 439,111.06 439.5,111.22 440,112.11 440.5,111.61 441,111.52 441.5,111.89 442,112.2 442.5,113.14 443,112.74 443.5,113.15 444,112.75 444.5,113.33 445,113.6 445.5,114.12 446,113.54 446.5,114.09 447,114.16 447.5,113.92 448,114.38 448.5,114.45 449,113.98 449.5,115 450,115.12 450.5,114.96 451,114.82 451.5,115.79 452,115.55 452.5,115.89 453,116.13 453.5,115.67 454,116.18 454.5,115.98 455,116.14 455.5,116.24 456,116.37 456.5,116.81 457,116.62 457.5,116.64 458,116.7 458.5,116.99 459,116.72 459.5,116.93 460,117.16 460.5,117.11 461,117.34 461.5,117.29 462,118.17 462.5,118.06 463,117.88 463.5,117.82 464,118.59 464.5,118.12 465,118.08 465.5,118.29 466,118.38 466.5,118.79 467,118.45 467.5,119.17 468,118.36 468.5,118.92 469,118.49 469.5,119.42 470,118.86 470.5,119.02 471,119.4 471.5,119.58 472,118.95 472.5,119.26 473,119.03 473.5,119.57 474,119.58 474.5,119.59 475,119.57 475.5,119.74 476,119.71 476.5,120.17 477,120.55 477.5,119.6 478,120.22 478.5,120.21 479,120.57 479.5,120.22 480,120.54 480.5,120.35 481,120.96 481.5,120.86 482,120.87 482.5,121.11 483,121.01 483.5,120.7 484,121.43 484.5,121.42 485,121.37 485.5,121.8 486,121.95 486.5,121.34 487,121.52 487.5,122.3 488,122.34 488.5,121.78 489,121.73 489.5,121.97 490,122.1 490.5,121.85 491,122.42 491.5,122.11 492,122.21 492.5,122.93 493,122.53 493.5,122.79 494,123.08 494.5,123.22 495,122.95 495.5,123.14 496,122.96 496.5,123.81 497,123.56 497.5,123.11 498,123.51 498.5,123.8 499,123.8 499.5,124.28 500,124.22 500.5,123.72 501,123.92 501.5,123.64 502,124.17 502.5,124.21 503,125.04 503.5,124.33 504,123.75 504.5,124.24 505,124.55 505.5,124.2 506,124.39 506.5,124.61 507,124.89 507.5,124.8 508,124.65 508.5,125.22 509,124.89 509.5,124.97 510,124.77 510.5,125.01 511,125.51 511.5,124.89 512,125.42 512.5,125.72 513,125.46 513.5,125.7 514,125.36 514.5,126.15 515,126.15 515.5,125.95 516,125.41 516.5,125.68 517,126.35 517.5,126.63 518,126.26 518.5,126.6 519,126.11 519.5,126.29 520,126.4 520.5,126.58 521,126.05 521.5,126.85 522,127.02 522.5,126.33 523,126.32 523.5,126.89 524,126.64 524.5,126.18 525,127.18 525.5,127.04 526,126.9 526.5,127.73 527,127.19 527.5,126.97 528,127.28 528.5,126.99 529,127.12 529.5,127.51 530,127.28 530.5,127.36 531,128.05 531.5,127.85 532,127.88 532.5,127.85 533,127.88 533.5,128.22 534,127.83 534.5,128.44 535,127.64 535.5,127.9 536,127.61 536.5,127.96 537,128.27 537.5,128.59 538,128.01 538.5,128.25 539,128.19 539.5,128.12 540,128.03 540.5,128.45 541,127.96 541.5,128.55 542,128.57 542.5,128.41 543,128.35 543.5,128.28 544,129.3 544.5,128.38 545,129.29 545.5,129.05 546,128.8 546.5,128.61 547,129.31 547.5,129.56 548,128.81 548.5,129.04 549,129.49 549.5,129.32 550,129.86 550.5,129.13 551,129.51 551.5,129.01 552,130.06 552.5,129.25 553,128.85 553.5,129.52 554,129.56 554.5,130.21 555,129.58 555.5,129.72 556,129.94 556.5,130.28 557,129.83 557.5,130.2 558,130.09 558.5,129.88 559,130.04 559.5,130.06 560,129.82 560.5,130.5 561,129.76 561.5,130.57 562,130.54 562.5,130.27 563,130.1 563.5,130.3 564,130.55 564.5,130.67 565,130.57 565.5,130.82 566,130.4 566.5,130.67 567,130.17 567.5,130.91 568,130.76 568.5,130.63 569,131.14 569.5,131.03 570,130.02 570.5,130.91 571,130.5 571.5,131.29 572,131.75 572.5,130.88 573,131.1 573.5,131.03 574,131.25 574.5,131.37 575,131.59 575.5,130.94 576,131.74 576.5,131.03 577,131.42 577.5,131.72 578,131.61 578.5,131.15 579,131.25 579.5,131.35 580,131.51 580.5,131.9 581,131.2 581.5,131.75 582,131.83 582.5,131.84 583,131.84 583.5,132.19 584,131.91 584.5,132.05 585,131.99 585.5,132.39 586,131.31 586.5,132.29 587,131.86 587.5,131.88 588,131.7 588.5,131.46 589,131.94 589.5,131.87 590,132.25 590.5,131.69 591,132.59 591.5,132.27 592,132.14 592.5,132.03 593,132.03 593.5,131.96 594,132.16 594.5,132.35 595,132.32 595.5,131.98 596,132.35 596.5,132.18 597,132.52 597.5,133.06 598,132.71 598.5,132.46 599,132.09 599.5,132.18 600,132.12 600.5,132.87 601,132.44 601.5,132.71 602,132.53 602.5,132.77 603,133.19 603.5,132.58 604,132.71 604.5,132.59 605,133.12 605.5,132.57 606,132.56 606.5,132.5 607,132.52 607.5,133.1 608,133.75 608.5,132.7 609,133.31 609.5,133.12 610,132.73 610.5,133 611,133.03" fill="none" stroke="#e0161c" stroke-width="1.4" stroke-linejoin="round" />
<polyline points="383,202.65 383.25,156.35 383.5,133.11 383.75,121.31 384,111.89 384.25,104.73 384.5,100.37 384.75,97.34 385,94.73 385.25,92.69 385.5,90.89 385.75,88.7 386,88.13 386.25,87.1 386.5,85.69 386.75,84.65 387,83.14 387.25,82.52 387.5,81.55 387.75,80.85 388,80.51 388.25,79.51 388.5,79.07 388.75,78.13 389,78 389.25,77.57 389.5,76.94 389.75,76.49 390,76.65 390.25,75.57 390.5,75.21 390.75,74.89 391,74.96 391.25,74.8 391.5,74.06 391.75,73.49 392,73.22 392.25,73.23 392.5,72.48 392.75,72.7 393,72.39 393.25,71.81 393.5,71.66 393.75,71.41 394,71.32 394.25,70.49 394.5,70.74 394.75,70.15 395,69.83 395.25,69.8 395.5,69.51 395.75,69.12 396,68.78 396.25,68.72 396.5,69.05 396.75,68.97 397,68.5 397.25,68.43 397.5,67.88 397.75,67.8 398,67.7 398.25,67.22 398.5,67.07 398.75,67.14 399,66.87 399.25,66.54 399.5,66.69 399.75,66.37 400,66.47 400.25,66.07 400.5,65.83 400.75,65.74 401,65.5 401.25,65.21 401.5,65.09 401.75,65.16 402,64.97 402.25,64.93 402.5,64.1 402.75,64.22 403,64.04 403.25,64 403.5,63.7 403.75,63.53 404,63.66 404.25,63.37 404.5,62.93 404.75,63.33 405,63.12 405.25,62.64 405.5,62.82 405.75,62.34 406,62.62 406.25,62.21 406.5,61.95 406.75,61.93 407,61.73 407.25,61.82 407.5,61.7 407.75,61.56 408,61.32 408.25,60.53 408.5,61.25 408.75,60.7 409,61.07 409.25,61.16 409.5,60.87 409.75,60.62 410,60.56 410.25,60.47 410.5,60.28 410.75,60.17 411,60 411.25,60.37 411.5,60.01 411.75,60.13 412,59.78 412.25,59.76 412.5,59.61 412.75,59.66 413,59.65 413.25,59.44 413.5,59.15 413.75,59.03 414,59.48 414.25,58.96 414.5,58.87 414.75,59.17 415,58.99 415.25,58.77 415.5,58.48 415.75,58.99 416,58.46 416.25,58.4 416.5,58.15 416.75,57.78 417,57.71 417.25,58 417.5,57.9 417.75,57.67 418,57.37 418.25,57.21 418.5,57.36 418.75,57.02 419,57.45 419.25,57.41 419.5,57.68 419.75,57.16 420,56.74 420.25,56.58 420.5,55.92 420.75,56.45 421,56.45 421.25,56.61 421.5,56.43 422,63.43 422.5,68.98 423,72.36 423.5,73.62 424,75.36 424.5,76.48 425,78.63 425.5,79.65 426,80.52 426.5,80.9 427,82.24 427.5,83.02 428,83.99 428.5,84.75 429,85.77 429.5,86.27 430,87.37 430.5,87.87 431,88.34 431.5,88.97 432,89.4 432.5,90.29 433,90.46 433.5,91.1 434,91.35 434.5,91.47 435,92.61 435.5,92.42 436,93.34 436.5,93.64 437,93.39 437.5,93.96 438,94.44 438.5,94.68 439,94.9 439.5,95.8 440,95.83 440.5,96.33 441,96.39 441.5,96.9 442,96.88 442.5,97.38 443,97.83 443.5,97.94 444,98.06 444.5,98.13 445,98.75 445.5,99.06 446,99.12 446.5,99.2 447,99.83 447.5,100.64 448,100.03 448.5,100.44 449,100.67 449.5,100 450,101.02 450.5,100.98 451,101.81 451.5,101.52 452,101.56 452.5,101.92 453,102.22 453.5,102.19 454,102.53 454.5,102.32 455,102.84 455.5,103.31 456,103.84 456.5,103.64 457,103.67 457.5,104.11 458,104.23 458.5,104.59 459,104.57 459.5,104.37 460,104.65 460.5,104.78 461,104.97 461.5,105.1 462,104.95 462.5,104.71 463,105.29 463.5,105.03 464,105.81 464.5,105.94 465,105.58 465.5,106.43 466,106.63 466.5,106.54 467,107.15 467.5,107.35 468,106.57 468.5,107.38 469,107.34 469.5,107.47 470,107.76 470.5,107.39 471,107.57 471.5,107.63 472,107.78 472.5,108.11 473,107.84 473.5,108.09 474,108.71 474.5,108.64 475,108.91 475.5,108.36 476,108.82 476.5,109.01 477,109.32 477.5,109.26 478,109.84 478.5,109.67 479,109.82 479.5,109.95 480,110.29 480.5,110.06 481,110.67 481.5,110.6 482,110.63 482.5,110.73 483,111 483.5,111.27 484,111.38 484.5,111.34 485,111.62 485.5,111.52 486,111.98 486.5,111.73 487,111.24 487.5,112.39 488,112.14 488.5,111.89 489,112.3 489.5,112.22 490,113.24 490.5,112.88 491,112.38 491.5,113.14 492,112.97 492.5,113.79 493,113.01 493.5,112.77 494,113.58 494.5,113.57 495,113.66 495.5,113.26 496,114.14 496.5,114.62 497,113.65 497.5,114.68 498,114.27 498.5,115.25 499,114.77 499.5,114.69 500,115.17 500.5,115.1 501,114.86 501.5,115.34 502,115.07 502.5,114.78 503,116.02 503.5,115.39 504,115.41 504.5,115.78 505,115.3 505.5,115.45 506,115.79 506.5,115.87 507,116.14 507.5,116.54 508,116.14 508.5,116.52 509,116.63 509.5,116.21 510,116.68 510.5,116.41 511,117.09 511.5,116.99 512,116.94 512.5,116.61 513,117.12 513.5,116.93 514,117.45 514.5,117.28 515,117.14 515.5,117.74 516,117.75 516.5,117.43 517,118.03 517.5,117.66 518,117.73 518.5,117.93 519,117.74 519.5,117.9 520,118.05 520.5,118.63 521,118.69 521.5,118.22 522,118.85 522.5,118.42 523,118.61 523.5,118.83 524,118.71 524.5,119.41 525,118.82 525.5,118.45 526,119.26 526.5,118.8 527,118.9 527.5,118.15 528,119.41 528.5,119.41 529,119.46 529.5,119.57 530,119.84 530.5,119.38 531,119.73 531.5,119.28 532,119.45 532.5,119.93 533,119.79 533.5,119.33 534,119.89 534.5,119.78 535,119.65 535.5,120.08 536,119.88 536.5,119.58 537,119.78 537.5,120.7 538,119.77 538.5,120.34 539,120.51 539.5,120.58 540,120.07 540.5,120.4 541,120.6 541.5,120.85 542,120.47 542.5,120.37 543,121.08 543.5,121.17 544,121.01 544.5,120.77 545,121.13 545.5,121.1 546,121.38 546.5,120.81 547,121.28 547.5,121.26 548,121.04 548.5,121.5 549,121.51 549.5,121.44 550,121.75 550.5,121.27 551,121.74 551.5,121.95 552,121.98 552.5,122.28 553,121.67 553.5,121.64 554,122.23 554.5,122.37 555,122.94 555.5,122.56 556,122.18 556.5,122.75 557,122.33 557.5,122.2 558,123.5 558.5,122.89 559,123.07 559.5,123.1 560,123.54 560.5,123.15 561,123.5 561.5,122.9 562,122.86 562.5,123.77 563,123.86 563.5,123.64 564,123.62 564.5,123.67 565,123.48 565.5,124.22 566,124.02 566.5,124.04 567,124.07 567.5,124.33 568,124.23 568.5,124.37 569,123.86 569.5,124.43 570,124.99 570.5,124.24 571,124.42 571.5,124.78 572,124.86 572.5,124.82 573,124.2 573.5,124.9 574,124.45 574.5,124.61 575,125.07 575.5,124.87 576,125.25 576.5,126 577,125.34 577.5,125.37 578,124.93 578.5,125.05 579,124.97 579.5,125.17 580,125.05 580.5,125.23 581,125.41 581.5,125.21 582,125.13 582.5,125.19 583,125.78 583.5,125.7 584,126.04 584.5,126.08 585,125.71 585.5,126.06 586,125.46 586.5,126.62 587,126.34 587.5,125.96 588,125.71 588.5,126.21 589,125.58 589.5,125.95 590,126.44 590.5,126.28 591,126.15 591.5,126.62 592,126.06 592.5,126.5 593,126.3 593.5,126.23 594,126.66 594.5,126.26 595,127.16 595.5,126.45 596,127.26 596.5,126.37 597,126.91 597.5,126.41 598,126.4 598.5,126.88 599,127.07 599.5,126.52 600,127.28 600.5,126.72 601,127.03 601.5,127.14 602,127.23 602.5,126.54 603,127.6 603.5,127.31 604,127.04 604.5,126.89 605,126.71 605.5,126.84 606,127.44 606.5,127.19 607,126.98 607.5,127.19 608,127.84 608.5,127.29 609,127.24 609.5,127.84 610,127.6 610.5,127.49 611,127.32" fill="none" stroke="#5f6063" stroke-width="1.4" stroke-linejoin="round" />
<rect x="376.6" y="33.7" width="235.4" height="171.1" fill="none" stroke="#222" stroke-width="1.2"/>
<line x1="376.6" y1="204.8" x2="376.6" y2="200.3" stroke="#222" stroke-width="1.2" />
<line x1="376.6" y1="33.7" x2="376.6" y2="38.2" stroke="#222" stroke-width="1.2" />
<line x1="440.25" y1="204.8" x2="440.25" y2="200.3" stroke="#222" stroke-width="1.2" />
<line x1="440.25" y1="33.7" x2="440.25" y2="38.2" stroke="#222" stroke-width="1.2" />
<line x1="503.9" y1="204.8" x2="503.9" y2="200.3" stroke="#222" stroke-width="1.2" />
<line x1="503.9" y1="33.7" x2="503.9" y2="38.2" stroke="#222" stroke-width="1.2" />
<line x1="567.55" y1="204.8" x2="567.55" y2="200.3" stroke="#222" stroke-width="1.2" />
<line x1="567.55" y1="33.7" x2="567.55" y2="38.2" stroke="#222" stroke-width="1.2" />
<line x1="389.33" y1="204.8" x2="389.33" y2="202.3" stroke="#222" stroke-width="1.2" />
<line x1="389.33" y1="33.7" x2="389.33" y2="36.2" stroke="#222" stroke-width="1.2" />
<line x1="402.06" y1="204.8" x2="402.06" y2="202.3" stroke="#222" stroke-width="1.2" />
<line x1="402.06" y1="33.7" x2="402.06" y2="36.2" stroke="#222" stroke-width="1.2" />
<line x1="414.79" y1="204.8" x2="414.79" y2="202.3" stroke="#222" stroke-width="1.2" />
<line x1="414.79" y1="33.7" x2="414.79" y2="36.2" stroke="#222" stroke-width="1.2" />
<line x1="427.52" y1="204.8" x2="427.52" y2="202.3" stroke="#222" stroke-width="1.2" />
<line x1="427.52" y1="33.7" x2="427.52" y2="36.2" stroke="#222" stroke-width="1.2" />
<line x1="452.98" y1="204.8" x2="452.98" y2="202.3" stroke="#222" stroke-width="1.2" />
<line x1="452.98" y1="33.7" x2="452.98" y2="36.2" stroke="#222" stroke-width="1.2" />
<line x1="465.71" y1="204.8" x2="465.71" y2="202.3" stroke="#222" stroke-width="1.2" />
<line x1="465.71" y1="33.7" x2="465.71" y2="36.2" stroke="#222" stroke-width="1.2" />
<line x1="478.44" y1="204.8" x2="478.44" y2="202.3" stroke="#222" stroke-width="1.2" />
<line x1="478.44" y1="33.7" x2="478.44" y2="36.2" stroke="#222" stroke-width="1.2" />
<line x1="491.17" y1="204.8" x2="491.17" y2="202.3" stroke="#222" stroke-width="1.2" />
<line x1="491.17" y1="33.7" x2="491.17" y2="36.2" stroke="#222" stroke-width="1.2" />
<line x1="516.63" y1="204.8" x2="516.63" y2="202.3" stroke="#222" stroke-width="1.2" />
<line x1="516.63" y1="33.7" x2="516.63" y2="36.2" stroke="#222" stroke-width="1.2" />
<line x1="529.36" y1="204.8" x2="529.36" y2="202.3" stroke="#222" stroke-width="1.2" />
<line x1="529.36" y1="33.7" x2="529.36" y2="36.2" stroke="#222" stroke-width="1.2" />
<line x1="542.09" y1="204.8" x2="542.09" y2="202.3" stroke="#222" stroke-width="1.2" />
<line x1="542.09" y1="33.7" x2="542.09" y2="36.2" stroke="#222" stroke-width="1.2" />
<line x1="554.82" y1="204.8" x2="554.82" y2="202.3" stroke="#222" stroke-width="1.2" />
<line x1="554.82" y1="33.7" x2="554.82" y2="36.2" stroke="#222" stroke-width="1.2" />
<line x1="580.28" y1="204.8" x2="580.28" y2="202.3" stroke="#222" stroke-width="1.2" />
<line x1="580.28" y1="33.7" x2="580.28" y2="36.2" stroke="#222" stroke-width="1.2" />
<line x1="593.01" y1="204.8" x2="593.01" y2="202.3" stroke="#222" stroke-width="1.2" />
<line x1="593.01" y1="33.7" x2="593.01" y2="36.2" stroke="#222" stroke-width="1.2" />
<line x1="605.74" y1="204.8" x2="605.74" y2="202.3" stroke="#222" stroke-width="1.2" />
<line x1="605.74" y1="33.7" x2="605.74" y2="36.2" stroke="#222" stroke-width="1.2" />
<line x1="376.6" y1="203.4" x2="381.1" y2="203.4" stroke="#222" stroke-width="1.2" />
<line x1="376.6" y1="174" x2="381.1" y2="174" stroke="#222" stroke-width="1.2" />
<line x1="376.6" y1="144.6" x2="381.1" y2="144.6" stroke="#222" stroke-width="1.2" />
<line x1="376.6" y1="115.2" x2="381.1" y2="115.2" stroke="#222" stroke-width="1.2" />
<line x1="376.6" y1="85.8" x2="381.1" y2="85.8" stroke="#222" stroke-width="1.2" />
<line x1="376.6" y1="56.4" x2="381.1" y2="56.4" stroke="#222" stroke-width="1.2" />
<line x1="376.6" y1="188.7" x2="379.1" y2="188.7" stroke="#222" stroke-width="1.2" />
<line x1="376.6" y1="159.3" x2="379.1" y2="159.3" stroke="#222" stroke-width="1.2" />
<line x1="376.6" y1="129.9" x2="379.1" y2="129.9" stroke="#222" stroke-width="1.2" />
<line x1="376.6" y1="100.5" x2="379.1" y2="100.5" stroke="#222" stroke-width="1.2" />
<line x1="376.6" y1="71.1" x2="379.1" y2="71.1" stroke="#222" stroke-width="1.2" />
<line x1="376.6" y1="41.7" x2="379.1" y2="41.7" stroke="#222" stroke-width="1.2" />
<text x="376.6" y="224.8" font-size="14" text-anchor="middle" fill="#111"  stroke="#111" stroke-width="0.3">0</text>
<text x="440.25" y="224.8" font-size="14" text-anchor="middle" fill="#111"  stroke="#111" stroke-width="0.3">5</text>
<text x="503.9" y="224.8" font-size="14" text-anchor="middle" fill="#111"  stroke="#111" stroke-width="0.3">10</text>
<text x="567.55" y="224.8" font-size="14" text-anchor="middle" fill="#111"  stroke="#111" stroke-width="0.3">15</text>
<rect x="383.3" y="272" width="37.5" height="154.2" fill="#dedede"/>
<polyline points="375.5,300.27 376,300.34 376.5,300.48 377,300.59 377.5,300.78 378,301.06 378.5,302.09 379,303.57 379.5,305.05 380,306.09 380.5,307.32 381,307.97 381.5,308.64 382,309.52 382.5,310.44 383,311.83 383.5,313.87 384,316.52 384.5,320.55 385,325.34 385.5,329.86 386,334.12 386.5,338.64 387,343.22 387.5,346.57 388,350.21 388.5,353.34 389,356.27 389.5,358.67 390,361.69 390.5,363.86 391,366.11 391.5,368.34 392,370.6 392.5,372.55 393,374.41 393.5,376.37 394,377.66 394.5,379.14 395,380.88 395.5,382.26 396,383.64 396.5,384.54 397,386.01 397.5,386.98 398,388.14 398.5,388.6 399,389.68 399.5,390.43 400,391.01 400.5,391.89 401,392.87 401.5,393.31 402,393.93 402.5,394.8 403,395.43 403.5,396.02 404,396.33 404.5,397 405,397.7 405.5,397.97 406,398.46 406.5,399.18 407,399.75 407.5,399.79 408,400 408.5,400.58 409,401.04 409.5,401.55 410,402.02 410.5,402.26 411,402.51 411.5,402.97 412,403.12 412.5,403.57 413,403.79 413.5,404.59 414,404.61 414.5,404.66 415,404.93 415.5,405.31 416,405.41 416.5,405.81 417,406.08 417.5,406.58 418,406.66 418.5,406.88 419,407.1 419.5,407.44 420,407.93 420.5,408.24 421,408.79 421.5,408.89 422,409.51 422.5,409.76 422.6,409.8 423.4,407.76 424.2,408.55 425,407.96 425.8,405.43 426.6,404.21 427.4,401.39 428.2,399.84 429,398.26 429.8,398.52 430.6,396.82 431.4,395.2 432.2,394 433,393.64 433.8,392.33 434.6,390.39 435.4,392.07 436.2,390.3 437,389.72 437.8,390.73 438.6,389.99 439.4,388.59 440.2,388.64 441,386.45 441.8,385.96 442.6,383.62 443.4,386.02 444.2,382.59 445,384.33 445.8,382.42 446.6,381.78 447.4,382.01 448.2,381.99 449,381.91 449.8,382.59 450.6,380.98 451.4,381.13 452.2,379.5 453,380.39 453.8,379.59 454.6,378.74 455.4,378.76 456.2,378.46 457,378.34 457.8,378.14 458.6,376.92 459.4,376.29 460.2,377.2 461,374.57 461.8,375.12 462.6,376.66 463.4,372.44 464.2,373.9 465,374.82 465.8,372.42 466.6,375.97 467.4,371.03 468.2,374.4 469,374.26 469.8,373.45 470.6,372.2 471.4,372.5 472.2,371.17 473,372.5 473.8,370.57 474.6,371.15 475.4,372.13 476.2,370.06 477,370.58 477.8,370.9 478.6,369.39 479.4,371.5 480.2,370.6 481,368.78 481.8,369.94 482.6,369.12 483.4,369.06 484.2,369.56 485,368.68 485.8,370.02 486.6,368.36 487.4,369.71 488.2,368.62 489,369.27 489.8,367.85 490.6,367.73 491.4,366.99 492.2,368.39 493,368.56 493.8,369.47 494.6,368.57 495.4,367.49 496.2,366.92 497,367.3 497.8,366.77 498.6,367.96 499.4,367.32 500.7,366.2 501,350.5 501.4,365.8 501.8,367.17 502.6,366.03 503.4,365.38 504.2,366.49 505,364.92 505.8,364.88 506.6,364.6 507.4,363.15 508.2,365.6 509,363.65 509.8,364.16 510.6,363.93 511.4,365.18 512.2,364.4 513,364.41 513.8,362.81 514.6,364.16 515.4,362.83 516.2,364.34 517,364.31 517.8,363.86 518.6,365.62 519.4,364.16 520.2,364.12 521,363.61 521.8,363.2 522.6,364.14 523.4,364.15 524.2,361.88 525,363.89 525.8,363.29 526.6,363.58 527.4,363.03 528.2,361.38 529,361.33 529.8,363.92 530.6,362.39 531.4,360.78 532.2,362.26 533,361.52 533.8,360.08 534.6,359.57 535.4,360.09 536.2,361.68 537,361.29 537.8,361.02 538.6,361.41 539.4,361.6 540.2,359.09 541,360.63 541.8,360.07 542.6,359.63 543.4,360.17 544.2,360.47 545,360.27 545.8,359.12 546.6,359.92 547.4,362.1 548.2,359.26 549,358.63 549.8,360.32 550.6,360.54 551.4,360.35 552.2,358.86 553,360.7 553.8,359.02 554.6,358.64 555.4,359.05 556.2,359.43 557,360.1 557.8,359.95 558.6,359.3 559.4,360.09 560.2,359.26 561,359.92 561.8,357.78 562.6,357.56 563.4,359.61 564.2,357.59 565,358.51 565.8,358.63 566.6,358.21 567.4,358.18 568.2,359.77 569,356.18 569.8,359.19 570.6,360.39 571.4,358.28 572.2,358.18 573,358.78 573.8,359.71 574.6,356.92 575.4,358 576.2,357.69 577,358.29 577.8,357.85 578.6,358.23 579.4,357.18 580.2,357.52 581,356.8 581.8,356.72 582.6,357.1 583.4,357.01 584.2,355.99 585,358.36 585.8,356.74 586.6,355.52 587.4,357.66 588.2,355.89 589,356.93 589.8,356.36 590.6,356.51 591.4,356.34 592.2,355.58 593,356.05 593.8,357.75 594.6,353.83 595.4,355.82 596.2,356.07 597,354.66 597.8,354.29 598.6,357.4 599.4,355.04 600.2,357.17 601,355.71 601.8,355.23 602.6,355.51 603.4,355.59 604.2,356.01 605,355.27 605.8,354.94 606.6,354.9 607.4,355.9 608.2,355.35 609,353.65 609.8,353.92 610.6,354.73 611,353.84" fill="none" stroke="#d81e2a" stroke-width="1.1" stroke-linejoin="round" />
<defs><radialGradient id="g1" gradientUnits="userSpaceOnUse" cx="428.3" cy="324" r="41"><stop offset="0.86" stop-color="#fff" stop-opacity="0.85"/><stop offset="0.9" stop-color="#fff" stop-opacity="0.45"/><stop offset="1" stop-color="#fff" stop-opacity="0"/></radialGradient></defs>
<circle cx="428.3" cy="324" r="41" fill="url(#g1)"/>
<circle cx="428.3" cy="324" r="35.6" fill="#fff" stroke="#a33a48" stroke-width="1.1"/>
<circle cx="530.2" cy="314.4" r="35.9" fill="#fff" stroke="#a33a48" stroke-width="1.1"/>
<rect x="375" y="270.7" width="236.8" height="155.5" fill="none" stroke="#222" stroke-width="1.2"/>
<rect x="421.2" y="268" width="2.6" height="6" fill="#fff"/>
<rect x="421.2" y="423" width="2.6" height="6" fill="#fff"/>
<line x1="420.6" y1="267.5" x2="420.6" y2="274.5" stroke="#222" stroke-width="1.0" />
<line x1="420.6" y1="423" x2="420.6" y2="430" stroke="#222" stroke-width="1.0" />
<line x1="424.4" y1="267.5" x2="424.4" y2="274.5" stroke="#222" stroke-width="1.0" />
<line x1="424.4" y1="423" x2="424.4" y2="430" stroke="#222" stroke-width="1.0" />
<line x1="377.2" y1="426.2" x2="377.2" y2="421.7" stroke="#222" stroke-width="1.2" />
<line x1="377.2" y1="270.7" x2="377.2" y2="275.2" stroke="#222" stroke-width="1.2" />
<line x1="393.8" y1="426.2" x2="393.8" y2="421.7" stroke="#222" stroke-width="1.2" />
<line x1="393.8" y1="270.7" x2="393.8" y2="275.2" stroke="#222" stroke-width="1.2" />
<line x1="410.4" y1="426.2" x2="410.4" y2="421.7" stroke="#222" stroke-width="1.2" />
<line x1="410.4" y1="270.7" x2="410.4" y2="275.2" stroke="#222" stroke-width="1.2" />
<line x1="440" y1="426.2" x2="440" y2="421.7" stroke="#222" stroke-width="1.2" />
<line x1="440" y1="270.7" x2="440" y2="275.2" stroke="#222" stroke-width="1.2" />
<line x1="504" y1="426.2" x2="504" y2="421.7" stroke="#222" stroke-width="1.2" />
<line x1="504" y1="270.7" x2="504" y2="275.2" stroke="#222" stroke-width="1.2" />
<line x1="568" y1="426.2" x2="568" y2="421.7" stroke="#222" stroke-width="1.2" />
<line x1="568" y1="270.7" x2="568" y2="275.2" stroke="#222" stroke-width="1.2" />
<line x1="385.5" y1="426.2" x2="385.5" y2="423.7" stroke="#222" stroke-width="1.2" />
<line x1="385.5" y1="270.7" x2="385.5" y2="273.2" stroke="#222" stroke-width="1.2" />
<line x1="402.1" y1="426.2" x2="402.1" y2="423.7" stroke="#222" stroke-width="1.2" />
<line x1="402.1" y1="270.7" x2="402.1" y2="273.2" stroke="#222" stroke-width="1.2" />
<line x1="418.7" y1="426.2" x2="418.7" y2="423.7" stroke="#222" stroke-width="1.2" />
<line x1="418.7" y1="270.7" x2="418.7" y2="273.2" stroke="#222" stroke-width="1.2" />
<line x1="427.2" y1="426.2" x2="427.2" y2="423.7" stroke="#222" stroke-width="1.2" />
<line x1="427.2" y1="270.7" x2="427.2" y2="273.2" stroke="#222" stroke-width="1.2" />
<line x1="452.8" y1="426.2" x2="452.8" y2="423.7" stroke="#222" stroke-width="1.2" />
<line x1="452.8" y1="270.7" x2="452.8" y2="273.2" stroke="#222" stroke-width="1.2" />
<line x1="465.6" y1="426.2" x2="465.6" y2="423.7" stroke="#222" stroke-width="1.2" />
<line x1="465.6" y1="270.7" x2="465.6" y2="273.2" stroke="#222" stroke-width="1.2" />
<line x1="478.4" y1="426.2" x2="478.4" y2="423.7" stroke="#222" stroke-width="1.2" />
<line x1="478.4" y1="270.7" x2="478.4" y2="273.2" stroke="#222" stroke-width="1.2" />
<line x1="491.2" y1="426.2" x2="491.2" y2="423.7" stroke="#222" stroke-width="1.2" />
<line x1="491.2" y1="270.7" x2="491.2" y2="273.2" stroke="#222" stroke-width="1.2" />
<line x1="516.8" y1="426.2" x2="516.8" y2="423.7" stroke="#222" stroke-width="1.2" />
<line x1="516.8" y1="270.7" x2="516.8" y2="273.2" stroke="#222" stroke-width="1.2" />
<line x1="529.6" y1="426.2" x2="529.6" y2="423.7" stroke="#222" stroke-width="1.2" />
<line x1="529.6" y1="270.7" x2="529.6" y2="273.2" stroke="#222" stroke-width="1.2" />
<line x1="542.4" y1="426.2" x2="542.4" y2="423.7" stroke="#222" stroke-width="1.2" />
<line x1="542.4" y1="270.7" x2="542.4" y2="273.2" stroke="#222" stroke-width="1.2" />
<line x1="555.2" y1="426.2" x2="555.2" y2="423.7" stroke="#222" stroke-width="1.2" />
<line x1="555.2" y1="270.7" x2="555.2" y2="273.2" stroke="#222" stroke-width="1.2" />
<line x1="580.8" y1="426.2" x2="580.8" y2="423.7" stroke="#222" stroke-width="1.2" />
<line x1="580.8" y1="270.7" x2="580.8" y2="273.2" stroke="#222" stroke-width="1.2" />
<line x1="593.6" y1="426.2" x2="593.6" y2="423.7" stroke="#222" stroke-width="1.2" />
<line x1="593.6" y1="270.7" x2="593.6" y2="273.2" stroke="#222" stroke-width="1.2" />
<line x1="606.4" y1="426.2" x2="606.4" y2="423.7" stroke="#222" stroke-width="1.2" />
<line x1="606.4" y1="270.7" x2="606.4" y2="273.2" stroke="#222" stroke-width="1.2" />
<line x1="375" y1="421.49" x2="379.5" y2="421.49" stroke="#222" stroke-width="1.2" />
<line x1="375" y1="381.16" x2="379.5" y2="381.16" stroke="#222" stroke-width="1.2" />
<line x1="375" y1="340.83" x2="379.5" y2="340.83" stroke="#222" stroke-width="1.2" />
<line x1="375" y1="300.5" x2="379.5" y2="300.5" stroke="#222" stroke-width="1.2" />
<line x1="375" y1="401.32" x2="377.5" y2="401.32" stroke="#222" stroke-width="1.2" />
<line x1="375" y1="361" x2="377.5" y2="361" stroke="#222" stroke-width="1.2" />
<line x1="375" y1="320.67" x2="377.5" y2="320.67" stroke="#222" stroke-width="1.2" />
<line x1="375" y1="280.33" x2="377.5" y2="280.33" stroke="#222" stroke-width="1.2" />
<text x="377.2" y="445.6" font-size="14" text-anchor="middle" fill="#111"  stroke="#111" stroke-width="0.3">0</text>
<text x="393.8" y="445.6" font-size="14" text-anchor="middle" fill="#111"  stroke="#111" stroke-width="0.3">1</text>
<text x="410.4" y="445.6" font-size="14" text-anchor="middle" fill="#111"  stroke="#111" stroke-width="0.3">2</text>
<text x="440" y="445.6" font-size="14" text-anchor="middle" fill="#111"  stroke="#111" stroke-width="0.3">5</text>
<text x="504" y="445.6" font-size="14" text-anchor="middle" fill="#111"  stroke="#111" stroke-width="0.3">10</text>
<text x="568" y="445.6" font-size="14" text-anchor="middle" fill="#111"  stroke="#111" stroke-width="0.3">15</text>
<text x="367.5" y="426.49" font-size="14" text-anchor="end" fill="#111"  stroke="#111" stroke-width="0.3">0.7</text>
<text x="367.5" y="386.16" font-size="14" text-anchor="end" fill="#111"  stroke="#111" stroke-width="0.3">0.8</text>
<text x="367.5" y="345.83" font-size="14" text-anchor="end" fill="#111"  stroke="#111" stroke-width="0.3">0.9</text>
<text x="367.5" y="305.5" font-size="14" text-anchor="end" fill="#111"  stroke="#111" stroke-width="0.3">1.0</text>
<polygon points="383.6,258.5 387,248.7 387,252.2 414.6,252.2 414.6,248.7 418,258.5 414.6,268.3 414.6,264.8 387,264.8 387,268.3" fill="#d9d9d9"/>
<polygon points="427.2,258.5 430.6,250.1 430.6,253.2 608.6,253.2 608.6,250.1 612.6,258.5 608.6,266.9 608.6,263.8 430.6,263.8 430.6,266.9" fill="#fff" stroke="#888" stroke-width="0.9"/>
<line x1="405.6" y1="302.4" x2="453.2" y2="302.4" stroke="#111" stroke-width="1.6" />
<line x1="416.8" y1="335.9" x2="450.6" y2="335.9" stroke="#111" stroke-width="1.6" />
<line x1="406" y1="349.4" x2="453" y2="349.4" stroke="#111" stroke-width="1.6" />
<line x1="412.3" y1="349.4" x2="412.3" y2="312" stroke="#b21ad0" stroke-width="2.8"/>
<polygon points="408.6,314.5 416.0,314.5 412.3,303.2" fill="#b21ad0"/>
<circle cx="415.8" cy="298.2" r="2.9" fill="#e0141e"/>
<path d="M423.5,295.4 C440,294.2 455,294.6 462.5,300.6" fill="none" stroke="#7a7a7a" stroke-width="2.1" stroke-dasharray="3.4,2.0"/>
<polygon points="458.6,304.4 467.0,305.2 463.8,297.6" fill="#7a7a7a"/>
<rect x="466.3" y="302.6" width="16" height="13.6" fill="#fff" stroke="#444" stroke-width="1.2"/>
<line x1="446.2" y1="327" x2="454.5" y2="327" stroke="#888" stroke-width="0.9" />
<polygon points="453.5,325.2 457,327 453.5,328.8" fill="#888"/>
<circle cx="429.4" cy="335.4" r="2.4" fill="#fff" stroke="#d01e2a" stroke-width="1.1"/>
<line x1="421" y1="349" x2="426.5" y2="340.4" stroke="#111" stroke-width="1.3" />
<polygon points="424.2,339.7 428.3,337.6 427.7,342.2" fill="#111"/>
<line x1="507.6" y1="292.8" x2="555" y2="292.8" stroke="#111" stroke-width="1.6" />
<line x1="520.6" y1="326.1" x2="552.4" y2="326.1" stroke="#111" stroke-width="1.6" />
<line x1="507.6" y1="339.7" x2="555.9" y2="339.7" stroke="#111" stroke-width="1.6" />
<line x1="519.3" y1="339.7" x2="519.3" y2="298" stroke="#b21ad0" stroke-width="1.5"/>
<polygon points="516.9,299.6 521.7,299.6 519.3,293.3" fill="#b21ad0"/>
<circle cx="519.8" cy="288.1" r="2.7" fill="#f3c6c9"/>
<path d="M523.5,287.5 C540,285.6 558,285.3 565.6,292.6" fill="none" stroke="#b4b4b8" stroke-width="1.3" stroke-dasharray="2.6,1.8"/>
<polygon points="564.0,294.6 568.3,296.4 567.5,291.9" fill="#9fb4c4"/>
<rect x="567.5" y="295.3" width="16.2" height="13.4" fill="#fff" stroke="#333" stroke-width="1.2"/>
<circle cx="571.9" cy="301.4" r="3.0" fill="#e0141e"/>
<path d="M565.3,307.2 L546.5,319.2" fill="none" stroke="#999" stroke-width="2.4" stroke-dasharray="3,2"/>
<polygon points="542.6,321.9 549.2,320.6 546.5,316.3" fill="#999"/>
<circle cx="539.3" cy="325.1" r="2.6" fill="#fbe6e8" stroke="#d01e2a" stroke-width="1.1"/>
<line x1="531" y1="339.5" x2="536.6" y2="331" stroke="#111" stroke-width="1.3" />
<polygon points="534.2,330.5 538.8,328.2 538.0,333.0" fill="#111"/>
<line x1="573" y1="320.3" x2="581.5" y2="320.3" stroke="#888" stroke-width="0.9" stroke-dasharray="1.2,0.8"/>
<polygon points="580.8,318.7 584,320.3 580.8,321.9" fill="#888"/>
<text transform="translate(164.8,170.6) scale(1.0076,1)" font-size="14" fill="#111"  stroke="#111" stroke-width="0.298">Time (min)</text>
<text transform="translate(51.3,98.7) rotate(-90) translate(-1.02,0) scale(1.0233,1)" font-size="14" fill="#111"  stroke="#111" stroke-width="0.293">MCD</text>
<text transform="translate(36.55,47.5) scale(0.9545,1)" font-size="21" fill="#111"  stroke="#111" stroke-width="0.314">a</text>
<text transform="translate(86.9,47.9) scale(0.9759,1)" font-size="12" fill="#111"  stroke="#111" stroke-width="0.307">T=3K</text>
<text transform="translate(86.01,61.7) scale(0.9929,1)" font-size="12" fill="#111"  stroke="#111" stroke-width="0.302">B=6T</text>
<text transform="translate(246.75,66.4) scale(1.0000,1)" font-size="12" fill="#111"  stroke="#111" stroke-width="0.300">25 nW/mm<tspan dy="-4.5" font-size="8.5">2</tspan></text>
<text transform="translate(152.87,92.1) scale(1.0336,1)" font-size="12" fill="#111"  stroke="#111" stroke-width="0.290">Probe fluence=12.5 nW/mm<tspan dy="-4.5" font-size="8.5">2</tspan></text>
<text transform="translate(253.22,111.2) scale(1.0250,1)" font-size="12" fill="#111"  stroke="#111" stroke-width="0.293">8 nW/mm<tspan dy="-4.5" font-size="8.5">2</tspan></text>
<text transform="translate(207.33,128.4) scale(1.0742,1)" font-size="12" fill="#111"  stroke="#111" stroke-width="0.279">No UV illumination</text>
<text transform="translate(157.58,314.7) scale(1.0164,1)" font-size="14" fill="#111"  stroke="#111" stroke-width="0.295">Energy (eV)</text>
<text transform="translate(51.9,245) rotate(-90) translate(-1.01,0) scale(1.0100,1)" font-size="14" fill="#111"  stroke="#111" stroke-width="0.297">MCD</text>
<text transform="translate(35,197.5) scale(1.2500,1)" font-size="21" fill="#111"  stroke="#111" stroke-width="0.240">b</text>
<text transform="translate(86.25,260) scale(0.9679,1)" font-size="12" fill="#111"  stroke="#111" stroke-width="0.310">T=1.8K</text>
<text transform="translate(85.29,273.9) scale(0.9554,1)" font-size="12" fill="#111"  stroke="#111" stroke-width="0.314">B=6T</text>
<text transform="translate(169.99,198.3) scale(1.0094,1)" font-size="12" fill="#c8283a"  stroke="#c8283a" stroke-width="0.297">UV on</text>
<text transform="translate(149.78,248.3) scale(1.0219,1)" font-size="12" fill="#111"  stroke="#111" stroke-width="0.294">UV off</text>
<text transform="translate(136.88,462.3) scale(1.0189,1)" font-size="14" fill="#111"  stroke="#111" stroke-width="0.294">Magnetic Field (T)</text>
<text transform="translate(52,390.8) rotate(-90) translate(-0.99,0) scale(0.9933,1)" font-size="14" fill="#111"  stroke="#111" stroke-width="0.302">MCD</text>
<text transform="translate(36.04,337.1) scale(1.1556,1)" font-size="21" fill="#111"  stroke="#111" stroke-width="0.260">c</text>
<text transform="translate(87.5,342.5) scale(0.9872,1)" font-size="12" fill="#111"  stroke="#111" stroke-width="0.304">T=1.8K</text>
<text transform="translate(199.8,347.5) scale(0.9969,1)" font-size="12" fill="#c8283a"  stroke="#c8283a" stroke-width="0.301">UV on</text>
<text transform="translate(260.25,384.2) scale(0.9953,1)" font-size="12" fill="#111"  stroke="#111" stroke-width="0.301">UV off</text>
<text transform="translate(462.2,240) scale(1.0030,1)" font-size="14" fill="#111"  stroke="#111" stroke-width="0.299">Time (min)</text>
<text transform="translate(369.8,134.5) rotate(-90) translate(-0.99,0) scale(0.9933,1)" font-size="14" fill="#111"  stroke="#111" stroke-width="0.302">MCD</text>
<text transform="translate(613.89,50.4) scale(1.1111,1)" font-size="21" fill="#111"  stroke="#111" stroke-width="0.270">d</text>
<text transform="translate(541.71,54.3) scale(1.0881,1)" font-size="11" fill="#616164" stroke="#616164" stroke-width="0.15">100&#956;W/mm<tspan dy="-5" font-size="8">2</tspan></text>
<text transform="translate(547.09,66.7) scale(1.1094,1)" font-size="11" fill="#d81c2a" stroke="#d81c2a" stroke-width="0.15">10&#956;W/mm<tspan dy="-5" font-size="8">2</tspan></text>
<text transform="translate(553.79,78.1) scale(1.1085,1)" font-size="11" fill="#4e0c12" stroke="#4e0c12" stroke-width="0.15">1&#956;W/mm<tspan dy="-5" font-size="8">2</tspan></text>
<text transform="translate(386.37,197.8) scale(1.1296,1)" font-size="10.5" fill="#222" stroke="#222" stroke-width="0.2">UV on</text>
<text transform="translate(493.86,197.5) scale(1.1429,1)" font-size="10.5" fill="#222" stroke="#222" stroke-width="0.2">UV off</text>
<text transform="translate(433.3,462.5) scale(1.0182,1)" font-size="14" fill="#111"  stroke="#111" stroke-width="0.295">Time (min)</text>
<text transform="translate(341.3,384.9) rotate(-90) translate(-1.08,0) scale(1.0768,1)" font-size="13.5" fill="#111"  stroke="#111" stroke-width="0.279">PL Intensity</text>
<text transform="translate(613.74,282.7) scale(1.0600,1)" font-size="21" fill="#111"  stroke="#111" stroke-width="0.283">e</text>
<text transform="translate(587.5,372.8) scale(1.0263,1)" font-size="12" fill="#d8283a"  stroke="#d8283a" stroke-width="0.292">x10</text>
<text transform="translate(381.21,261.8) scale(0.9930,1)" font-size="9" fill="#222" stroke="#222" stroke-width="0.1">10&#956;W/mm<tspan dy="-3.5" font-size="6.5">2</tspan></text>
<text transform="translate(457.79,262.2) scale(0.9617,1)" font-size="9" fill="#222" stroke="#222" stroke-width="0.1">Excitation fluence=100nW/mm<tspan dy="-3.5" font-size="6.5">2</tspan></text>
<text transform="translate(453.98,293.8) scale(0.9182,1)" font-size="9.5" fill="#222" stroke="#222" stroke-width="0.25">ET</text>
<text transform="translate(468.07,312.1) scale(0.8250,1)" font-size="9.5" fill="#222" stroke="#222" stroke-width="0.25">DS</text>
<text transform="translate(432.1,329.7) scale(0.9067,1)" font-size="9.5" fill="#222" stroke="#222" stroke-width="0.25">Ag<tspan dy="-2.6" font-size="6">+</tspan></text>
<text transform="translate(457,329.7) scale(1.0556,1)" font-size="9.5" fill="#222" stroke="#222" stroke-width="0.25">Ag<tspan dy="-3.3" font-size="6.5">2+</tspan></text>
<text transform="translate(543.3,309) scale(1.0000,1)" font-size="9.5" fill="#222" stroke="#222" stroke-width="0.25">DT</text>
<text transform="translate(554.7,322.75) scale(0.9722,1)" font-size="9.5" fill="#222" stroke="#222" stroke-width="0.25">Ag<tspan dy="-3.3" font-size="6.5" fill="#999" stroke="#999">2+</tspan></text>
<text transform="translate(584.7,322.75) scale(0.8200,1)" font-size="9.5" fill="#222" stroke="#222" stroke-width="0.25">Ag<tspan dy="-2.6" font-size="6">+</tspan></text>
</svg>
</body></html>
